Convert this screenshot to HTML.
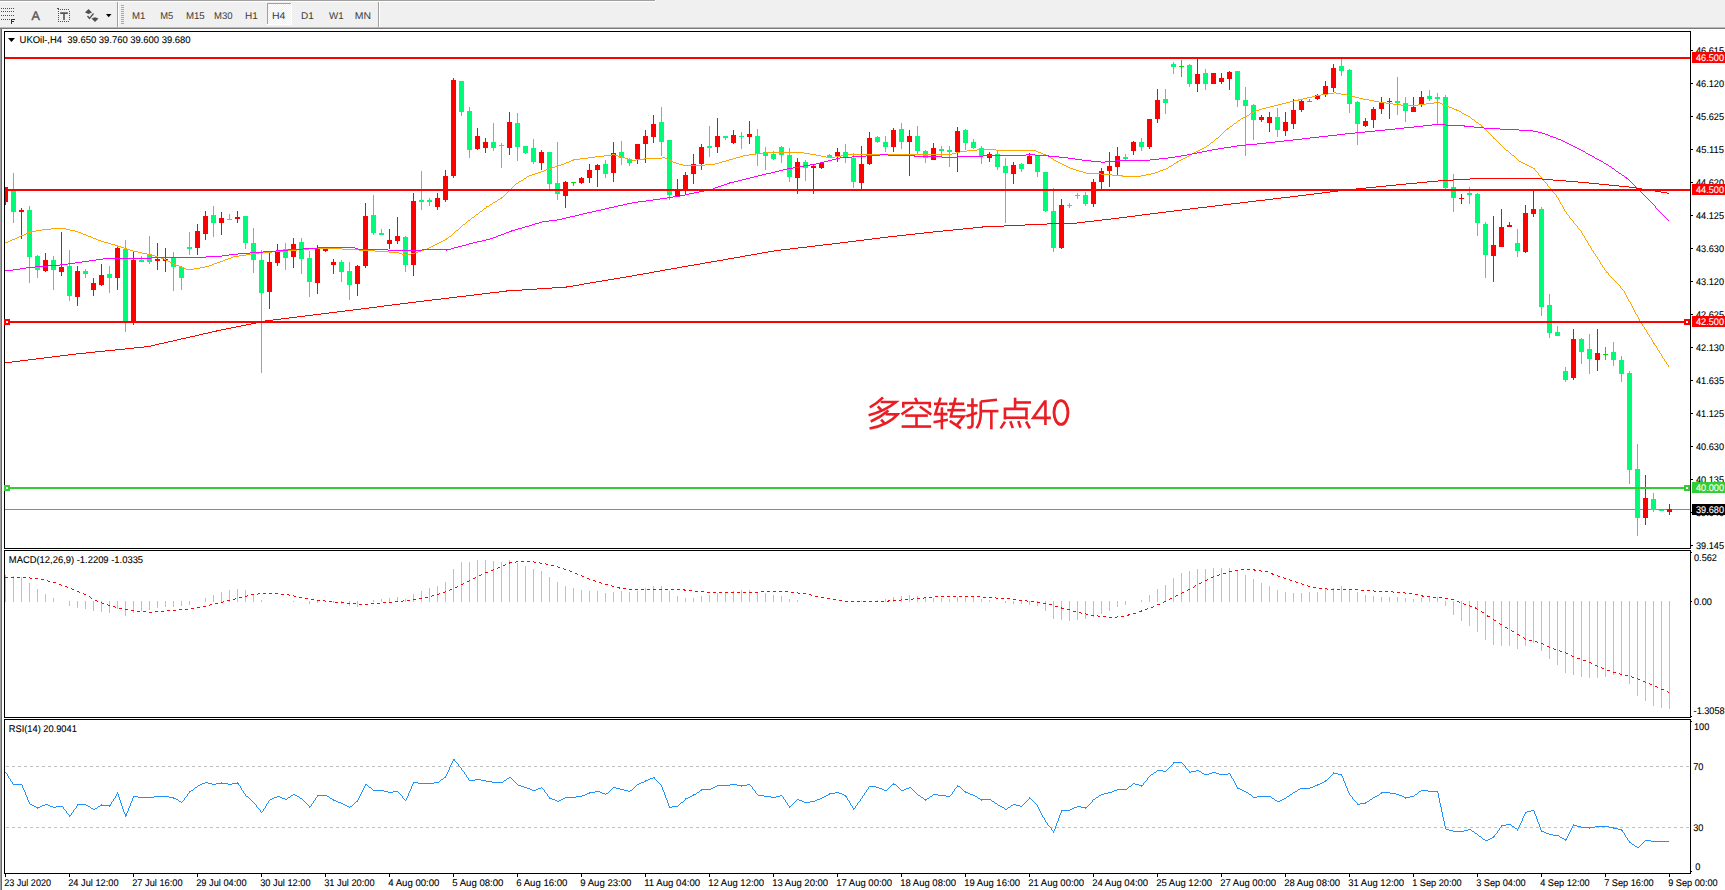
<!DOCTYPE html>
<html><head><meta charset="utf-8"><title>UKOil-,H4</title>
<style>html,body{margin:0;padding:0;background:#fff;overflow:hidden}svg{display:block}text{font-family:"Liberation Sans",sans-serif;white-space:pre}</style>
</head><body>
<svg width="1725" height="890" viewBox="0 0 1725 890" font-family="Liberation Sans, sans-serif" shape-rendering="crispEdges" text-rendering="geometricPrecision">
<rect x="0" y="0" width="1725" height="890" fill="#fff"/>
<rect x="0" y="0" width="1725" height="27" fill="#f0f0f0"/>
<rect x="0" y="0" width="655" height="1" fill="#a0a0a0"/>
<rect x="0" y="1" width="656" height="1" fill="#fff"/>
<rect x="655" y="0" width="1" height="1" fill="#fff"/>
<rect x="0" y="27" width="1725" height="1" fill="#b9b9b9"/>
<rect x="0" y="28" width="1725" height="1" fill="#7a7a7a"/>
<rect x="0" y="29" width="1" height="861" fill="#a0a0a0"/>
<rect x="1" y="29" width="1" height="861" fill="#696969"/>
<g id="toolbar" shape-rendering="auto">
<!-- fibo icon -->
<g fill="#505050" shape-rendering="crispEdges">
<path d="M1,8h1v1h-1zM3,8h1v1h-1zM5,8h1v1h-1zM7,8h1v1h-1zM9,8h1v1h-1zM11,8h1v1h-1zM13,8h1v1h-1z"/>
<path d="M1,11h1v1h-1zM3,11h1v1h-1zM5,11h1v1h-1zM7,11h1v1h-1zM9,11h1v1h-1zM11,11h1v1h-1zM13,11h1v1h-1z"/>
<path d="M1,15h1v1h-1zM3,15h1v1h-1zM5,15h1v1h-1zM7,15h1v1h-1zM9,15h1v1h-1zM11,15h1v1h-1zM13,15h1v1h-1z"/>
<path d="M1,19h1v1h-1zM3,19h1v1h-1zM5,19h1v1h-1zM7,19h1v1h-1zM9,19h1v1h-1z"/>
<path d="M11,19h4v1h-3v1h2v1h-2v2h-1z" fill="#303030"/>
</g>
<!-- A -->
<text x="31.6" y="20" font-size="12.5" fill="#5a5a5a" stroke="#5a5a5a" stroke-width="0.45">A</text>
<!-- T in dotted box -->
<g fill="#505050" shape-rendering="crispEdges">
<path d="M58,9h1v1h-1zM60,9h1v1h-1zM62,9h1v1h-1zM64,9h1v1h-1zM66,9h1v1h-1zM68,9h1v1h-1zM58,21h1v1h-1zM60,21h1v1h-1zM62,21h1v1h-1zM64,21h1v1h-1zM66,21h1v1h-1zM68,21h1v1h-1z"/>
<path d="M58,11h1v1h-1zM58,13h1v1h-1zM58,15h1v1h-1zM58,17h1v1h-1zM58,19h1v1h-1zM69,11h1v1h-1zM69,13h1v1h-1zM69,15h1v1h-1zM69,17h1v1h-1zM69,19h1v1h-1z"/>
<path d="M57,8h2v1h-2z"/>
<path d="M60.200,12.300h7.600v1.600h-3v6.100h-1.600v-6.100h-3z" fill="#555" shape-rendering="auto"/>
</g>
<!-- arrows icon -->
<g fill="#505050">
<path d="M88.500,9 L92,12.500 L88.500,14 L85,12.500 Z"/>
<path d="M95,22 L98.500,18.500 L95,17.200 L91.500,18.500 Z"/>
<path d="M87.500,16 L89.500,18.500 L93.500,13.500" fill="none" stroke="#505050" stroke-width="1.300"/>
</g>
<path d="M106,14 L111.500,14 L108.700,17.200 Z" fill="#000"/>
<!-- separators / grip -->
<g shape-rendering="crispEdges">
<rect x="117" y="2" width="1" height="25" fill="#a0a0a0"/>
<rect x="118" y="2" width="1" height="25" fill="#fff"/>
<path d="M121,5h3v1h-3zM121,7h3v1h-3zM121,9h3v1h-3zM121,11h3v1h-3zM121,13h3v1h-3zM121,15h3v1h-3zM121,17h3v1h-3zM121,19h3v1h-3zM121,21h3v1h-3zM121,23h3v1h-3z" fill="#a8a8a8"/>
<rect x="378" y="2" width="1" height="25" fill="#a0a0a0"/>
<rect x="379" y="2" width="1" height="25" fill="#fff"/>
<!-- H4 selected -->
<defs><pattern id="chk" width="2" height="2" patternUnits="userSpaceOnUse"><rect width="2" height="2" fill="#f0f0f0"/><rect width="1" height="1" fill="#fff"/><rect x="1" y="1" width="1" height="1" fill="#fff"/></pattern></defs><rect x="268" y="4" width="23" height="20" fill="url(#chk)"/>
<rect x="267" y="3" width="25" height="1" fill="#a0a0a0"/><rect x="267" y="3" width="1" height="22" fill="#a0a0a0"/>
<rect x="267" y="24" width="25" height="1" fill="#fff"/><rect x="291" y="3" width="1" height="22" fill="#fff"/>
</g>
<g font-size="9.7" fill="#3c3c3c" lengthAdjust="spacingAndGlyphs">
<text x="132" y="19" textLength="13.4" lengthAdjust="spacingAndGlyphs">M1</text><text x="160.300" y="19" textLength="13" lengthAdjust="spacingAndGlyphs">M5</text><text x="185.900" y="19" textLength="18.800" lengthAdjust="spacingAndGlyphs">M15</text><text x="214.100" y="19" textLength="18.500" lengthAdjust="spacingAndGlyphs">M30</text>
<text x="245" y="19" textLength="12.800" lengthAdjust="spacingAndGlyphs">H1</text><text x="271.900" y="19" textLength="13.400" lengthAdjust="spacingAndGlyphs">H4</text><text x="301" y="19" textLength="12.800" lengthAdjust="spacingAndGlyphs">D1</text><text x="329.100" y="19" textLength="14.600" lengthAdjust="spacingAndGlyphs">W1</text><text x="354.800" y="19" textLength="16.200" lengthAdjust="spacingAndGlyphs">MN</text>
</g>
</g>

<rect x="4" y="31" width="1" height="518" fill="#000"/>
<rect x="1690" y="31" width="1" height="518" fill="#000"/>
<rect x="4" y="31" width="1687" height="1" fill="#000"/>
<rect x="4" y="548" width="1687" height="1" fill="#000"/>
<rect x="4" y="550" width="1" height="168" fill="#000"/>
<rect x="1690" y="550" width="1" height="168" fill="#000"/>
<rect x="4" y="550" width="1687" height="1" fill="#000"/>
<rect x="4" y="717" width="1687" height="1" fill="#000"/>
<rect x="4" y="719" width="1" height="155" fill="#000"/>
<rect x="1690" y="719" width="1" height="155" fill="#000"/>
<rect x="4" y="719" width="1687" height="1" fill="#000"/>
<rect x="4" y="873" width="1687" height="1" fill="#000"/>
<g id="main">
<rect x="5" y="509" width="1685" height="1" fill="#7f8c9b"/>
<rect x="5" y="187" width="1" height="18" fill="#ff0000"/>
<rect x="5" y="187" width="3" height="15" fill="#ff0000"/>
<rect x="13" y="173" width="1" height="50" fill="#00fb78"/>
<rect x="11" y="190" width="5" height="22" fill="#00fb78"/>
<rect x="21" y="208" width="1" height="31" fill="#ff0000"/>
<rect x="19" y="210" width="5" height="2" fill="#ff0000"/>
<rect x="29" y="206" width="1" height="77" fill="#00fb78"/>
<rect x="27" y="210" width="5" height="47" fill="#00fb78"/>
<rect x="37" y="255" width="1" height="23" fill="#00fb78"/>
<rect x="35" y="256" width="5" height="14" fill="#00fb78"/>
<rect x="45" y="253" width="1" height="19" fill="#ff0000"/>
<rect x="43" y="260" width="5" height="11" fill="#ff0000"/>
<rect x="53" y="256" width="1" height="34" fill="#00fb78"/>
<rect x="51" y="260" width="5" height="10" fill="#00fb78"/>
<rect x="61" y="232" width="1" height="44" fill="#ff0000"/>
<rect x="59" y="267" width="5" height="5" fill="#ff0000"/>
<rect x="69" y="250" width="1" height="51" fill="#00fb78"/>
<rect x="67" y="266" width="5" height="30" fill="#00fb78"/>
<rect x="77" y="266" width="1" height="40" fill="#ff0000"/>
<rect x="75" y="271" width="5" height="26" fill="#ff0000"/>
<rect x="85" y="269" width="1" height="9" fill="#00fb78"/>
<rect x="83" y="271" width="5" height="3" fill="#00fb78"/>
<rect x="93" y="278" width="1" height="18" fill="#ff0000"/>
<rect x="91" y="283" width="5" height="7" fill="#ff0000"/>
<rect x="101" y="264" width="1" height="22" fill="#ff0000"/>
<rect x="99" y="275" width="5" height="10" fill="#ff0000"/>
<rect x="109" y="266" width="1" height="27" fill="#00fb78"/>
<rect x="107" y="274" width="5" height="4" fill="#00fb78"/>
<rect x="117" y="247" width="1" height="43" fill="#ff0000"/>
<rect x="115" y="248" width="5" height="30" fill="#ff0000"/>
<rect x="125" y="240" width="1" height="92" fill="#00fb78"/>
<rect x="123" y="249" width="5" height="73" fill="#00fb78"/>
<rect x="133" y="252" width="1" height="73" fill="#ff0000"/>
<rect x="131" y="260" width="5" height="62" fill="#ff0000"/>
<rect x="141" y="256" width="1" height="6" fill="#00fb78"/>
<rect x="139" y="260" width="5" height="2" fill="#00fb78"/>
<rect x="149" y="236" width="1" height="28" fill="#00fb78"/>
<rect x="147" y="254" width="5" height="8" fill="#00fb78"/>
<rect x="157" y="243" width="1" height="27" fill="#ff0000"/>
<rect x="155" y="259" width="5" height="2" fill="#ff0000"/>
<rect x="165" y="248" width="1" height="24" fill="#ff0000"/>
<rect x="163" y="259" width="5" height="2" fill="#ff0000"/>
<rect x="173" y="252" width="1" height="39" fill="#00fb78"/>
<rect x="171" y="258" width="5" height="9" fill="#00fb78"/>
<rect x="181" y="266" width="1" height="24" fill="#00fb78"/>
<rect x="179" y="267" width="5" height="11" fill="#00fb78"/>
<rect x="189" y="232" width="1" height="23" fill="#00fb78"/>
<rect x="187" y="247" width="5" height="2" fill="#00fb78"/>
<rect x="197" y="224" width="1" height="31" fill="#ff0000"/>
<rect x="195" y="231" width="5" height="17" fill="#ff0000"/>
<rect x="205" y="211" width="1" height="29" fill="#ff0000"/>
<rect x="203" y="216" width="5" height="18" fill="#ff0000"/>
<rect x="213" y="206" width="1" height="31" fill="#00fb78"/>
<rect x="211" y="215" width="5" height="8" fill="#00fb78"/>
<rect x="221" y="212" width="1" height="23" fill="#ff0000"/>
<rect x="219" y="218" width="5" height="5" fill="#ff0000"/>
<rect x="229" y="214" width="1" height="6" fill="#00fb78"/>
<rect x="227" y="219" width="5" height="1" fill="#00fb78"/>
<rect x="237" y="211" width="1" height="12" fill="#ff0000"/>
<rect x="235" y="217" width="5" height="2" fill="#ff0000"/>
<rect x="245" y="216" width="1" height="33" fill="#00fb78"/>
<rect x="243" y="216" width="5" height="27" fill="#00fb78"/>
<rect x="253" y="228" width="1" height="45" fill="#00fb78"/>
<rect x="251" y="243" width="5" height="17" fill="#00fb78"/>
<rect x="261" y="250" width="1" height="123" fill="#00fb78"/>
<rect x="259" y="260" width="5" height="33" fill="#00fb78"/>
<rect x="269" y="252" width="1" height="57" fill="#ff0000"/>
<rect x="267" y="262" width="5" height="30" fill="#ff0000"/>
<rect x="277" y="244" width="1" height="22" fill="#ff0000"/>
<rect x="275" y="252" width="5" height="11" fill="#ff0000"/>
<rect x="285" y="243" width="1" height="27" fill="#00fb78"/>
<rect x="283" y="249" width="5" height="9" fill="#00fb78"/>
<rect x="293" y="238" width="1" height="30" fill="#ff0000"/>
<rect x="291" y="244" width="5" height="13" fill="#ff0000"/>
<rect x="301" y="238" width="1" height="36" fill="#00fb78"/>
<rect x="299" y="242" width="5" height="17" fill="#00fb78"/>
<rect x="309" y="251" width="1" height="46" fill="#00fb78"/>
<rect x="307" y="258" width="5" height="24" fill="#00fb78"/>
<rect x="317" y="245" width="1" height="49" fill="#ff0000"/>
<rect x="315" y="249" width="5" height="34" fill="#ff0000"/>
<rect x="325" y="248" width="1" height="4" fill="#ff0000"/>
<rect x="323" y="249" width="5" height="2" fill="#ff0000"/>
<rect x="333" y="259" width="1" height="15" fill="#ff0000"/>
<rect x="331" y="262" width="5" height="3" fill="#ff0000"/>
<rect x="341" y="260" width="1" height="22" fill="#00fb78"/>
<rect x="339" y="262" width="5" height="10" fill="#00fb78"/>
<rect x="349" y="262" width="1" height="38" fill="#00fb78"/>
<rect x="347" y="271" width="5" height="14" fill="#00fb78"/>
<rect x="357" y="265" width="1" height="31" fill="#ff0000"/>
<rect x="355" y="266" width="5" height="18" fill="#ff0000"/>
<rect x="365" y="203" width="1" height="65" fill="#ff0000"/>
<rect x="363" y="216" width="5" height="50" fill="#ff0000"/>
<rect x="373" y="195" width="1" height="40" fill="#00fb78"/>
<rect x="371" y="215" width="5" height="18" fill="#00fb78"/>
<rect x="381" y="229" width="1" height="6" fill="#00fb78"/>
<rect x="379" y="233" width="5" height="2" fill="#00fb78"/>
<rect x="389" y="229" width="1" height="20" fill="#ff0000"/>
<rect x="387" y="240" width="5" height="4" fill="#ff0000"/>
<rect x="397" y="217" width="1" height="27" fill="#ff0000"/>
<rect x="395" y="236" width="5" height="5" fill="#ff0000"/>
<rect x="405" y="236" width="1" height="36" fill="#00fb78"/>
<rect x="403" y="237" width="5" height="28" fill="#00fb78"/>
<rect x="413" y="193" width="1" height="83" fill="#ff0000"/>
<rect x="411" y="201" width="5" height="64" fill="#ff0000"/>
<rect x="421" y="171" width="1" height="39" fill="#00fb78"/>
<rect x="419" y="200" width="5" height="2" fill="#00fb78"/>
<rect x="429" y="198" width="1" height="8" fill="#00fb78"/>
<rect x="427" y="200" width="5" height="2" fill="#00fb78"/>
<rect x="437" y="193" width="1" height="17" fill="#ff0000"/>
<rect x="435" y="198" width="5" height="9" fill="#ff0000"/>
<rect x="445" y="170" width="1" height="32" fill="#ff0000"/>
<rect x="443" y="176" width="5" height="24" fill="#ff0000"/>
<rect x="453" y="78" width="1" height="100" fill="#ff0000"/>
<rect x="451" y="80" width="5" height="96" fill="#ff0000"/>
<rect x="461" y="81" width="1" height="35" fill="#00fb78"/>
<rect x="459" y="81" width="5" height="31" fill="#00fb78"/>
<rect x="469" y="107" width="1" height="51" fill="#00fb78"/>
<rect x="467" y="111" width="5" height="39" fill="#00fb78"/>
<rect x="477" y="128" width="1" height="22" fill="#ff0000"/>
<rect x="475" y="136" width="5" height="13" fill="#ff0000"/>
<rect x="485" y="138" width="1" height="15" fill="#ff0000"/>
<rect x="483" y="142" width="5" height="6" fill="#ff0000"/>
<rect x="493" y="123" width="1" height="28" fill="#00fb78"/>
<rect x="491" y="142" width="5" height="6" fill="#00fb78"/>
<rect x="501" y="143" width="1" height="25" fill="#00fb78"/>
<rect x="499" y="145" width="5" height="1" fill="#00fb78"/>
<rect x="509" y="112" width="1" height="43" fill="#ff0000"/>
<rect x="507" y="122" width="5" height="26" fill="#ff0000"/>
<rect x="517" y="113" width="1" height="48" fill="#00fb78"/>
<rect x="515" y="123" width="5" height="24" fill="#00fb78"/>
<rect x="525" y="146" width="1" height="8" fill="#00fb78"/>
<rect x="523" y="146" width="5" height="7" fill="#00fb78"/>
<rect x="533" y="139" width="1" height="25" fill="#00fb78"/>
<rect x="531" y="148" width="5" height="14" fill="#00fb78"/>
<rect x="541" y="150" width="1" height="20" fill="#ff0000"/>
<rect x="539" y="152" width="5" height="11" fill="#ff0000"/>
<rect x="549" y="152" width="1" height="37" fill="#00fb78"/>
<rect x="547" y="152" width="5" height="32" fill="#00fb78"/>
<rect x="557" y="142" width="1" height="58" fill="#00fb78"/>
<rect x="555" y="183" width="5" height="11" fill="#00fb78"/>
<rect x="565" y="181" width="1" height="27" fill="#ff0000"/>
<rect x="563" y="182" width="5" height="14" fill="#ff0000"/>
<rect x="573" y="182" width="1" height="4" fill="#00e000"/>
<rect x="571" y="182" width="5" height="1" fill="#00e000"/>
<rect x="581" y="177" width="1" height="7" fill="#ff0000"/>
<rect x="579" y="178" width="5" height="5" fill="#ff0000"/>
<rect x="589" y="164" width="1" height="19" fill="#ff0000"/>
<rect x="587" y="170" width="5" height="8" fill="#ff0000"/>
<rect x="597" y="164" width="1" height="23" fill="#ff0000"/>
<rect x="595" y="165" width="5" height="5" fill="#ff0000"/>
<rect x="605" y="160" width="1" height="18" fill="#00fb78"/>
<rect x="603" y="164" width="5" height="10" fill="#00fb78"/>
<rect x="613" y="142" width="1" height="40" fill="#ff0000"/>
<rect x="611" y="153" width="5" height="20" fill="#ff0000"/>
<rect x="621" y="141" width="1" height="24" fill="#00fb78"/>
<rect x="619" y="152" width="5" height="6" fill="#00fb78"/>
<rect x="629" y="158" width="1" height="8" fill="#00fb78"/>
<rect x="627" y="159" width="5" height="4" fill="#00fb78"/>
<rect x="637" y="144" width="1" height="20" fill="#ff0000"/>
<rect x="635" y="144" width="5" height="15" fill="#ff0000"/>
<rect x="645" y="130" width="1" height="33" fill="#ff0000"/>
<rect x="643" y="136" width="5" height="8" fill="#ff0000"/>
<rect x="653" y="115" width="1" height="28" fill="#ff0000"/>
<rect x="651" y="124" width="5" height="13" fill="#ff0000"/>
<rect x="661" y="107" width="1" height="49" fill="#00fb78"/>
<rect x="659" y="122" width="5" height="20" fill="#00fb78"/>
<rect x="669" y="140" width="1" height="60" fill="#00fb78"/>
<rect x="667" y="140" width="5" height="55" fill="#00fb78"/>
<rect x="677" y="179" width="1" height="17" fill="#ff0000"/>
<rect x="675" y="190" width="5" height="6" fill="#ff0000"/>
<rect x="685" y="172" width="1" height="22" fill="#ff0000"/>
<rect x="683" y="175" width="5" height="15" fill="#ff0000"/>
<rect x="693" y="154" width="1" height="30" fill="#ff0000"/>
<rect x="691" y="164" width="5" height="10" fill="#ff0000"/>
<rect x="701" y="144" width="1" height="26" fill="#ff0000"/>
<rect x="699" y="147" width="5" height="17" fill="#ff0000"/>
<rect x="709" y="126" width="1" height="31" fill="#00fb78"/>
<rect x="707" y="146" width="5" height="2" fill="#00fb78"/>
<rect x="717" y="118" width="1" height="35" fill="#ff0000"/>
<rect x="715" y="136" width="5" height="11" fill="#ff0000"/>
<rect x="725" y="136" width="1" height="4" fill="#00fb78"/>
<rect x="723" y="136" width="5" height="2" fill="#00fb78"/>
<rect x="733" y="130" width="1" height="14" fill="#ff0000"/>
<rect x="731" y="135" width="5" height="8" fill="#ff0000"/>
<rect x="741" y="132" width="1" height="17" fill="#00fb78"/>
<rect x="739" y="136" width="5" height="1" fill="#00fb78"/>
<rect x="749" y="121" width="1" height="23" fill="#ff0000"/>
<rect x="747" y="134" width="5" height="3" fill="#ff0000"/>
<rect x="757" y="129" width="1" height="37" fill="#00fb78"/>
<rect x="755" y="136" width="5" height="18" fill="#00fb78"/>
<rect x="765" y="147" width="1" height="23" fill="#00fb78"/>
<rect x="763" y="152" width="5" height="4" fill="#00fb78"/>
<rect x="773" y="151" width="1" height="9" fill="#00fb78"/>
<rect x="771" y="154" width="5" height="5" fill="#00fb78"/>
<rect x="781" y="146" width="1" height="17" fill="#00fb78"/>
<rect x="779" y="147" width="5" height="8" fill="#00fb78"/>
<rect x="789" y="148" width="1" height="34" fill="#00fb78"/>
<rect x="787" y="155" width="5" height="22" fill="#00fb78"/>
<rect x="797" y="158" width="1" height="36" fill="#ff0000"/>
<rect x="795" y="162" width="5" height="16" fill="#ff0000"/>
<rect x="805" y="160" width="1" height="21" fill="#00fb78"/>
<rect x="803" y="162" width="5" height="6" fill="#00fb78"/>
<rect x="813" y="165" width="1" height="29" fill="#ff0000"/>
<rect x="811" y="166" width="5" height="2" fill="#ff0000"/>
<rect x="821" y="162" width="1" height="7" fill="#ff0000"/>
<rect x="819" y="163" width="5" height="5" fill="#ff0000"/>
<rect x="829" y="154" width="1" height="4" fill="#00fb78"/>
<rect x="827" y="155" width="5" height="2" fill="#00fb78"/>
<rect x="837" y="148" width="1" height="14" fill="#ff0000"/>
<rect x="835" y="152" width="5" height="5" fill="#ff0000"/>
<rect x="845" y="144" width="1" height="19" fill="#00fb78"/>
<rect x="843" y="152" width="5" height="6" fill="#00fb78"/>
<rect x="853" y="153" width="1" height="35" fill="#00fb78"/>
<rect x="851" y="158" width="5" height="24" fill="#00fb78"/>
<rect x="861" y="146" width="1" height="43" fill="#ff0000"/>
<rect x="859" y="164" width="5" height="19" fill="#ff0000"/>
<rect x="869" y="132" width="1" height="33" fill="#ff0000"/>
<rect x="867" y="138" width="5" height="26" fill="#ff0000"/>
<rect x="877" y="136" width="1" height="7" fill="#00fb78"/>
<rect x="875" y="137" width="5" height="5" fill="#00fb78"/>
<rect x="885" y="136" width="1" height="16" fill="#00fb78"/>
<rect x="883" y="142" width="5" height="5" fill="#00fb78"/>
<rect x="893" y="128" width="1" height="24" fill="#ff0000"/>
<rect x="891" y="130" width="5" height="17" fill="#ff0000"/>
<rect x="901" y="123" width="1" height="26" fill="#00fb78"/>
<rect x="899" y="129" width="5" height="13" fill="#00fb78"/>
<rect x="909" y="130" width="1" height="46" fill="#ff0000"/>
<rect x="907" y="136" width="5" height="6" fill="#ff0000"/>
<rect x="917" y="126" width="1" height="29" fill="#00fb78"/>
<rect x="915" y="136" width="5" height="15" fill="#00fb78"/>
<rect x="925" y="150" width="1" height="13" fill="#00fb78"/>
<rect x="923" y="151" width="5" height="7" fill="#00fb78"/>
<rect x="933" y="143" width="1" height="17" fill="#ff0000"/>
<rect x="931" y="148" width="5" height="12" fill="#ff0000"/>
<rect x="941" y="146" width="1" height="12" fill="#00fb78"/>
<rect x="939" y="149" width="5" height="2" fill="#00fb78"/>
<rect x="949" y="146" width="1" height="21" fill="#00fb78"/>
<rect x="947" y="150" width="5" height="2" fill="#00fb78"/>
<rect x="957" y="127" width="1" height="45" fill="#ff0000"/>
<rect x="955" y="131" width="5" height="21" fill="#ff0000"/>
<rect x="965" y="129" width="1" height="21" fill="#00fb78"/>
<rect x="963" y="130" width="5" height="13" fill="#00fb78"/>
<rect x="973" y="139" width="1" height="10" fill="#00fb78"/>
<rect x="971" y="142" width="5" height="6" fill="#00fb78"/>
<rect x="981" y="146" width="1" height="18" fill="#00fb78"/>
<rect x="979" y="148" width="5" height="8" fill="#00fb78"/>
<rect x="989" y="152" width="1" height="10" fill="#ff0000"/>
<rect x="987" y="154" width="5" height="4" fill="#ff0000"/>
<rect x="997" y="150" width="1" height="20" fill="#00fb78"/>
<rect x="995" y="154" width="5" height="13" fill="#00fb78"/>
<rect x="1005" y="158" width="1" height="65" fill="#00fb78"/>
<rect x="1003" y="166" width="5" height="7" fill="#00fb78"/>
<rect x="1013" y="162" width="1" height="22" fill="#ff0000"/>
<rect x="1011" y="165" width="5" height="9" fill="#ff0000"/>
<rect x="1021" y="163" width="1" height="9" fill="#00fb78"/>
<rect x="1019" y="164" width="5" height="5" fill="#00fb78"/>
<rect x="1029" y="153" width="1" height="11" fill="#ff0000"/>
<rect x="1027" y="156" width="5" height="8" fill="#ff0000"/>
<rect x="1037" y="155" width="1" height="22" fill="#00fb78"/>
<rect x="1035" y="156" width="5" height="16" fill="#00fb78"/>
<rect x="1045" y="172" width="1" height="40" fill="#00fb78"/>
<rect x="1043" y="172" width="5" height="39" fill="#00fb78"/>
<rect x="1053" y="188" width="1" height="64" fill="#00fb78"/>
<rect x="1051" y="211" width="5" height="37" fill="#00fb78"/>
<rect x="1061" y="199" width="1" height="50" fill="#ff0000"/>
<rect x="1059" y="205" width="5" height="43" fill="#ff0000"/>
<rect x="1069" y="203" width="1" height="5" fill="#00fb78"/>
<rect x="1067" y="205" width="5" height="1" fill="#00fb78"/>
<rect x="1077" y="193" width="1" height="6" fill="#00fb78"/>
<rect x="1075" y="195" width="5" height="1" fill="#00fb78"/>
<rect x="1085" y="192" width="1" height="14" fill="#00fb78"/>
<rect x="1083" y="195" width="5" height="9" fill="#00fb78"/>
<rect x="1093" y="179" width="1" height="28" fill="#ff0000"/>
<rect x="1091" y="182" width="5" height="22" fill="#ff0000"/>
<rect x="1101" y="168" width="1" height="22" fill="#ff0000"/>
<rect x="1099" y="171" width="5" height="11" fill="#ff0000"/>
<rect x="1109" y="152" width="1" height="35" fill="#ff0000"/>
<rect x="1107" y="166" width="5" height="5" fill="#ff0000"/>
<rect x="1117" y="147" width="1" height="28" fill="#ff0000"/>
<rect x="1115" y="156" width="5" height="11" fill="#ff0000"/>
<rect x="1125" y="154" width="1" height="6" fill="#00fb78"/>
<rect x="1123" y="157" width="5" height="2" fill="#00fb78"/>
<rect x="1133" y="141" width="1" height="14" fill="#ff0000"/>
<rect x="1131" y="142" width="5" height="9" fill="#ff0000"/>
<rect x="1141" y="138" width="1" height="13" fill="#00fb78"/>
<rect x="1139" y="142" width="5" height="5" fill="#00fb78"/>
<rect x="1149" y="119" width="1" height="30" fill="#ff0000"/>
<rect x="1147" y="119" width="5" height="28" fill="#ff0000"/>
<rect x="1157" y="89" width="1" height="34" fill="#ff0000"/>
<rect x="1155" y="100" width="5" height="19" fill="#ff0000"/>
<rect x="1165" y="89" width="1" height="25" fill="#00fb78"/>
<rect x="1163" y="99" width="5" height="4" fill="#00fb78"/>
<rect x="1173" y="62" width="1" height="12" fill="#00fb78"/>
<rect x="1171" y="64" width="5" height="3" fill="#00fb78"/>
<rect x="1181" y="60" width="1" height="17" fill="#00e000"/>
<rect x="1179" y="66" width="5" height="1" fill="#00e000"/>
<rect x="1189" y="64" width="1" height="23" fill="#00fb78"/>
<rect x="1187" y="65" width="5" height="19" fill="#00fb78"/>
<rect x="1197" y="58" width="1" height="34" fill="#ff0000"/>
<rect x="1195" y="74" width="5" height="10" fill="#ff0000"/>
<rect x="1205" y="69" width="1" height="21" fill="#00fb78"/>
<rect x="1203" y="73" width="5" height="11" fill="#00fb78"/>
<rect x="1213" y="73" width="1" height="11" fill="#ff0000"/>
<rect x="1211" y="73" width="5" height="11" fill="#ff0000"/>
<rect x="1221" y="73" width="1" height="11" fill="#ff0000"/>
<rect x="1219" y="78" width="5" height="4" fill="#ff0000"/>
<rect x="1229" y="71" width="1" height="19" fill="#ff0000"/>
<rect x="1227" y="72" width="5" height="7" fill="#ff0000"/>
<rect x="1237" y="71" width="1" height="36" fill="#00fb78"/>
<rect x="1235" y="71" width="5" height="29" fill="#00fb78"/>
<rect x="1245" y="87" width="1" height="69" fill="#00fb78"/>
<rect x="1243" y="100" width="5" height="6" fill="#00fb78"/>
<rect x="1253" y="104" width="1" height="36" fill="#00fb78"/>
<rect x="1251" y="105" width="5" height="15" fill="#00fb78"/>
<rect x="1261" y="115" width="1" height="7" fill="#ff0000"/>
<rect x="1259" y="117" width="5" height="3" fill="#ff0000"/>
<rect x="1269" y="112" width="1" height="20" fill="#ff0000"/>
<rect x="1267" y="117" width="5" height="6" fill="#ff0000"/>
<rect x="1277" y="108" width="1" height="29" fill="#00fb78"/>
<rect x="1275" y="117" width="5" height="13" fill="#00fb78"/>
<rect x="1285" y="112" width="1" height="24" fill="#ff0000"/>
<rect x="1283" y="122" width="5" height="9" fill="#ff0000"/>
<rect x="1293" y="99" width="1" height="30" fill="#ff0000"/>
<rect x="1291" y="110" width="5" height="14" fill="#ff0000"/>
<rect x="1301" y="99" width="1" height="13" fill="#ff0000"/>
<rect x="1299" y="101" width="5" height="9" fill="#ff0000"/>
<rect x="1309" y="99" width="1" height="3" fill="#00e000"/>
<rect x="1307" y="101" width="5" height="1" fill="#00e000"/>
<rect x="1317" y="94" width="1" height="6" fill="#ff0000"/>
<rect x="1315" y="95" width="5" height="4" fill="#ff0000"/>
<rect x="1325" y="81" width="1" height="16" fill="#ff0000"/>
<rect x="1323" y="86" width="5" height="9" fill="#ff0000"/>
<rect x="1333" y="64" width="1" height="28" fill="#ff0000"/>
<rect x="1331" y="68" width="5" height="20" fill="#ff0000"/>
<rect x="1341" y="59" width="1" height="17" fill="#00fb78"/>
<rect x="1339" y="66" width="5" height="5" fill="#00fb78"/>
<rect x="1349" y="69" width="1" height="44" fill="#00fb78"/>
<rect x="1347" y="70" width="5" height="34" fill="#00fb78"/>
<rect x="1357" y="101" width="1" height="44" fill="#00fb78"/>
<rect x="1355" y="102" width="5" height="22" fill="#00fb78"/>
<rect x="1365" y="118" width="1" height="9" fill="#ff0000"/>
<rect x="1363" y="121" width="5" height="5" fill="#ff0000"/>
<rect x="1373" y="107" width="1" height="21" fill="#ff0000"/>
<rect x="1371" y="109" width="5" height="11" fill="#ff0000"/>
<rect x="1381" y="97" width="1" height="17" fill="#ff0000"/>
<rect x="1379" y="102" width="5" height="7" fill="#ff0000"/>
<rect x="1389" y="98" width="1" height="21" fill="#ff0000"/>
<rect x="1387" y="101" width="5" height="1" fill="#ff0000"/>
<rect x="1397" y="77" width="1" height="38" fill="#00fb78"/>
<rect x="1395" y="101" width="5" height="2" fill="#00fb78"/>
<rect x="1405" y="97" width="1" height="25" fill="#00fb78"/>
<rect x="1403" y="103" width="5" height="8" fill="#00fb78"/>
<rect x="1413" y="97" width="1" height="15" fill="#ff0000"/>
<rect x="1411" y="107" width="5" height="5" fill="#ff0000"/>
<rect x="1421" y="91" width="1" height="16" fill="#ff0000"/>
<rect x="1419" y="97" width="5" height="7" fill="#ff0000"/>
<rect x="1429" y="90" width="1" height="11" fill="#00fb78"/>
<rect x="1427" y="96" width="5" height="3" fill="#00fb78"/>
<rect x="1437" y="93" width="1" height="32" fill="#00fb78"/>
<rect x="1435" y="97" width="5" height="2" fill="#00fb78"/>
<rect x="1445" y="95" width="1" height="94" fill="#00fb78"/>
<rect x="1443" y="97" width="5" height="91" fill="#00fb78"/>
<rect x="1453" y="174" width="1" height="38" fill="#00fb78"/>
<rect x="1451" y="187" width="5" height="11" fill="#00fb78"/>
<rect x="1461" y="194" width="1" height="10" fill="#ff0000"/>
<rect x="1459" y="198" width="5" height="1" fill="#ff0000"/>
<rect x="1469" y="187" width="1" height="17" fill="#00fb78"/>
<rect x="1467" y="193" width="5" height="2" fill="#00fb78"/>
<rect x="1477" y="193" width="1" height="43" fill="#00fb78"/>
<rect x="1475" y="194" width="5" height="29" fill="#00fb78"/>
<rect x="1485" y="222" width="1" height="56" fill="#00fb78"/>
<rect x="1483" y="224" width="5" height="31" fill="#00fb78"/>
<rect x="1493" y="216" width="1" height="66" fill="#ff0000"/>
<rect x="1491" y="245" width="5" height="11" fill="#ff0000"/>
<rect x="1501" y="209" width="1" height="38" fill="#ff0000"/>
<rect x="1499" y="227" width="5" height="20" fill="#ff0000"/>
<rect x="1509" y="222" width="1" height="5" fill="#ff0000"/>
<rect x="1507" y="225" width="5" height="2" fill="#ff0000"/>
<rect x="1517" y="229" width="1" height="28" fill="#00fb78"/>
<rect x="1515" y="243" width="5" height="8" fill="#00fb78"/>
<rect x="1525" y="205" width="1" height="48" fill="#ff0000"/>
<rect x="1523" y="213" width="5" height="39" fill="#ff0000"/>
<rect x="1533" y="191" width="1" height="26" fill="#ff0000"/>
<rect x="1531" y="209" width="5" height="5" fill="#ff0000"/>
<rect x="1541" y="207" width="1" height="109" fill="#00fb78"/>
<rect x="1539" y="209" width="5" height="98" fill="#00fb78"/>
<rect x="1549" y="294" width="1" height="44" fill="#00fb78"/>
<rect x="1547" y="305" width="5" height="28" fill="#00fb78"/>
<rect x="1557" y="326" width="1" height="10" fill="#00fb78"/>
<rect x="1555" y="332" width="5" height="4" fill="#00fb78"/>
<rect x="1565" y="367" width="1" height="15" fill="#00fb78"/>
<rect x="1563" y="371" width="5" height="9" fill="#00fb78"/>
<rect x="1573" y="329" width="1" height="51" fill="#ff0000"/>
<rect x="1571" y="339" width="5" height="39" fill="#ff0000"/>
<rect x="1581" y="338" width="1" height="26" fill="#00fb78"/>
<rect x="1579" y="339" width="5" height="13" fill="#00fb78"/>
<rect x="1589" y="334" width="1" height="40" fill="#00fb78"/>
<rect x="1587" y="349" width="5" height="10" fill="#00fb78"/>
<rect x="1597" y="329" width="1" height="42" fill="#ff0000"/>
<rect x="1595" y="353" width="5" height="7" fill="#ff0000"/>
<rect x="1605" y="347" width="1" height="13" fill="#00e000"/>
<rect x="1603" y="354" width="5" height="1" fill="#00e000"/>
<rect x="1613" y="342" width="1" height="24" fill="#00fb78"/>
<rect x="1611" y="352" width="5" height="8" fill="#00fb78"/>
<rect x="1621" y="356" width="1" height="26" fill="#00fb78"/>
<rect x="1619" y="360" width="5" height="14" fill="#00fb78"/>
<rect x="1629" y="371" width="1" height="113" fill="#00fb78"/>
<rect x="1627" y="373" width="5" height="97" fill="#00fb78"/>
<rect x="1637" y="444" width="1" height="92" fill="#00fb78"/>
<rect x="1635" y="469" width="5" height="49" fill="#00fb78"/>
<rect x="1645" y="475" width="1" height="50" fill="#ff0000"/>
<rect x="1643" y="498" width="5" height="20" fill="#ff0000"/>
<rect x="1653" y="493" width="1" height="19" fill="#00fb78"/>
<rect x="1651" y="499" width="5" height="11" fill="#00fb78"/>
<rect x="1661" y="510" width="1" height="1" fill="#00fb78"/>
<rect x="1659" y="510" width="5" height="1" fill="#00fb78"/>
<rect x="1669" y="504" width="1" height="11" fill="#ff0000"/>
<rect x="1667" y="509" width="5" height="3" fill="#ff0000"/>
<path fill="#ffa500" d="M5,242h3v1h-3zM8,241h2v1h-2zM10,240h2v1h-2zM12,239h3v1h-3zM15,238h2v1h-2zM17,237h2v1h-2zM19,236h2v1h-2zM21,235h3v1h-3zM24,234h2v1h-2zM26,233h2v1h-2zM28,232h2v1h-2zM30,231h1v2h-1zM31,231h5v1h-5zM36,230h6v1h-6zM42,229h9v1h-9zM51,228h15v1h-15zM66,229h4v1h-4zM70,230h5v1h-5zM75,231h3v1h-3zM78,232h3v1h-3zM81,233h2v1h-2zM83,234h3v1h-3zM86,235h2v1h-2zM88,236h3v1h-3zM91,237h2v1h-2zM93,238h3v1h-3zM96,239h2v1h-2zM98,240h3v1h-3zM101,241h3v1h-3zM104,242h4v1h-4zM108,243h3v1h-3zM111,244h4v1h-4zM115,245h2v1h-2zM117,245h1v2h-1zM118,246h3v1h-3zM121,247h3v1h-3zM124,248h3v1h-3zM127,249h3v1h-3zM130,250h3v1h-3zM133,251h5v1h-5zM138,252h4v1h-4zM142,253h5v1h-5zM147,254h5v1h-5zM152,255h3v1h-3zM155,256h3v1h-3zM158,257h3v1h-3zM161,258h3v1h-3zM164,259h2v1h-2zM166,260h2v1h-2zM168,261h2v1h-2zM170,262h2v1h-2zM172,263h2v1h-2zM174,264h2v1h-2zM176,265h3v1h-3zM179,266h2v1h-2zM181,267h3v1h-3zM184,268h2v1h-2zM186,269h8v1h-8zM194,268h6v1h-6zM200,267h5v1h-5zM205,266h4v1h-4zM209,265h3v1h-3zM212,264h2v1h-2zM214,263h3v1h-3zM217,262h3v1h-3zM220,261h3v1h-3zM223,260h2v1h-2zM225,259h3v1h-3zM228,258h3v1h-3zM231,257h2v1h-2zM233,256h6v1h-6zM239,255h7v1h-7zM246,254h6v1h-6zM252,253h6v1h-6zM258,252h1v2h-1zM259,252h13v1h-13zM272,251h11v1h-11zM283,250h1v2h-1zM284,250h13v1h-13zM297,249h11v1h-11zM308,248h1v2h-1zM309,248h33v1h-33zM342,249h17v1h-17zM359,250h16v1h-16zM375,251h14v1h-14zM389,252h10v1h-10zM399,253h3v1h-3zM402,254h3v1h-3zM405,255h2v1h-2zM407,254h4v1h-4zM411,253h4v1h-4zM415,252h3v1h-3zM418,251h3v1h-3zM421,250h3v1h-3zM424,249h3v1h-3zM427,248h2v1h-2zM429,247h2v1h-2zM431,246h2v1h-2zM433,245h2v1h-2zM435,244h2v1h-2zM437,243h2v1h-2zM439,242h2v1h-2zM441,241h2v1h-2zM443,240h2v1h-2zM445,239h1v1h-1zM446,238h1v2h-1zM447,238h1v1h-1zM448,237h1v1h-1zM449,236h2v1h-2zM451,235h1v1h-1zM452,234h1v1h-1zM453,233h1v1h-1zM454,232h1v1h-1zM455,231h1v1h-1zM456,230h2v1h-2zM458,229h1v1h-1zM459,228h1v1h-1zM460,227h1v1h-1zM461,226h1v1h-1zM462,225h1v1h-1zM463,224h2v1h-2zM465,223h1v1h-1zM466,222h1v1h-1zM467,221h1v1h-1zM468,220h2v1h-2zM470,219h1v1h-1zM471,218h1v1h-1zM472,217h2v1h-2zM474,216h1v1h-1zM475,215h1v1h-1zM476,214h2v1h-2zM478,213h1v1h-1zM479,212h1v1h-1zM480,211h2v1h-2zM482,210h1v1h-1zM483,209h1v1h-1zM484,208h2v1h-2zM486,206h1v2h-1zM487,206h2v1h-2zM489,205h1v1h-1zM490,204h2v1h-2zM492,203h1v1h-1zM493,202h2v1h-2zM495,201h2v1h-2zM497,200h1v1h-1zM498,199h2v1h-2zM500,198h1v1h-1zM501,197h1v2h-1zM502,197h1v1h-1zM503,196h1v1h-1zM504,195h1v1h-1zM505,194h1v1h-1zM506,193h1v1h-1zM507,192h1v1h-1zM508,191h1v1h-1zM509,190h1v1h-1zM510,189h1v1h-1zM511,188h1v1h-1zM512,187h1v1h-1zM513,186h1v1h-1zM514,185h1v1h-1zM515,184h1v1h-1zM516,183h2v1h-2zM518,182h1v1h-1zM519,181h2v1h-2zM521,180h2v1h-2zM523,179h1v1h-1zM524,178h2v1h-2zM526,177h1v1h-1zM527,176h2v1h-2zM529,175h3v1h-3zM532,174h3v1h-3zM535,173h3v1h-3zM538,172h3v1h-3zM541,171h3v1h-3zM544,170h2v1h-2zM546,169h3v1h-3zM549,168h3v1h-3zM552,167h3v1h-3zM555,166h3v1h-3zM558,165h3v1h-3zM561,164h3v1h-3zM564,163h2v1h-2zM566,162h3v1h-3zM569,161h2v1h-2zM571,160h2v1h-2zM573,159h1v2h-1zM574,159h6v1h-6zM580,158h8v1h-8zM588,157h7v1h-7zM595,156h9v1h-9zM604,155h8v1h-8zM612,154h3v1h-3zM615,155h3v1h-3zM618,156h3v1h-3zM621,157h4v1h-4zM625,158h3v1h-3zM628,159h4v1h-4zM632,160h4v1h-4zM636,159h8v1h-8zM644,158h1v2h-1zM645,158h17v1h-17zM662,157h3v1h-3zM665,158h2v1h-2zM667,159h2v1h-2zM669,160h2v1h-2zM671,161h2v1h-2zM673,162h3v1h-3zM676,163h3v1h-3zM679,164h4v1h-4zM683,165h22v1h-22zM705,164h10v1h-10zM715,163h4v1h-4zM719,162h3v1h-3zM722,161h4v1h-4zM726,160h3v1h-3zM729,159h4v1h-4zM733,158h3v1h-3zM736,157h4v1h-4zM740,156h3v1h-3zM743,155h6v1h-6zM749,154h7v1h-7zM756,153h10v1h-10zM766,152h38v1h-38zM804,153h6v1h-6zM810,154h6v1h-6zM816,155h5v1h-5zM821,156h5v1h-5zM826,157h9v1h-9zM835,156h6v1h-6zM841,155h6v1h-6zM847,154h105v1h-105zM952,153h4v1h-4zM956,152h4v1h-4zM960,151h7v1h-7zM967,150h10v1h-10zM977,149h19v1h-19zM996,150h40v1h-40zM1036,151h2v1h-2zM1038,152h3v1h-3zM1041,153h2v1h-2zM1043,154h3v1h-3zM1046,155h2v1h-2zM1048,156h2v1h-2zM1050,157h1v1h-1zM1051,158h2v1h-2zM1053,159h1v1h-1zM1054,160h2v1h-2zM1056,161h2v1h-2zM1058,162h2v1h-2zM1060,163h2v1h-2zM1062,164h2v1h-2zM1064,165h2v1h-2zM1066,166h2v1h-2zM1068,167h2v1h-2zM1070,168h3v1h-3zM1073,169h3v1h-3zM1076,170h3v1h-3zM1079,171h4v1h-4zM1083,172h3v1h-3zM1086,173h15v1h-15zM1101,174h11v1h-11zM1112,175h10v1h-10zM1122,175h1v2h-1zM1123,176h18v1h-18zM1141,175h5v1h-5zM1146,174h5v1h-5zM1151,173h4v1h-4zM1155,172h3v1h-3zM1158,171h2v1h-2zM1160,170h3v1h-3zM1163,169h3v1h-3zM1166,168h2v1h-2zM1168,167h1v1h-1zM1169,166h2v1h-2zM1171,165h2v1h-2zM1173,164h1v1h-1zM1174,163h2v1h-2zM1176,162h1v1h-1zM1177,161h1v2h-1zM1178,161h1v1h-1zM1179,160h2v1h-2zM1181,159h2v1h-2zM1183,158h2v1h-2zM1185,157h2v1h-2zM1187,156h2v1h-2zM1189,155h1v1h-1zM1190,154h2v1h-2zM1192,153h2v1h-2zM1194,152h2v1h-2zM1196,151h2v1h-2zM1198,150h2v1h-2zM1200,149h2v1h-2zM1202,148h2v1h-2zM1204,147h2v1h-2zM1206,146h1v1h-1zM1207,145h2v1h-2zM1209,144h1v1h-1zM1210,143h1v1h-1zM1211,142h2v1h-2zM1213,141h1v1h-1zM1214,140h1v1h-1zM1215,139h1v1h-1zM1216,138h2v1h-2zM1218,137h1v1h-1zM1219,136h1v1h-1zM1220,135h1v1h-1zM1221,134h1v1h-1zM1222,133h1v1h-1zM1223,132h1v1h-1zM1224,131h1v1h-1zM1225,130h1v1h-1zM1226,129h1v1h-1zM1227,128h1v2h-1zM1228,128h1v1h-1zM1229,127h1v1h-1zM1230,126h2v1h-2zM1232,125h1v1h-1zM1233,124h1v1h-1zM1234,123h2v1h-2zM1236,122h1v1h-1zM1237,121h1v1h-1zM1238,120h2v1h-2zM1240,119h1v1h-1zM1241,118h2v1h-2zM1243,117h2v1h-2zM1245,116h2v1h-2zM1247,115h2v1h-2zM1249,114h1v1h-1zM1250,113h2v1h-2zM1252,112h2v1h-2zM1254,111h2v1h-2zM1256,110h3v1h-3zM1259,109h3v1h-3zM1262,108h4v1h-4zM1266,107h4v1h-4zM1270,106h4v1h-4zM1274,105h4v1h-4zM1278,104h4v1h-4zM1282,103h4v1h-4zM1286,102h4v1h-4zM1290,101h4v1h-4zM1294,100h4v1h-4zM1298,99h1v2h-1zM1299,99h4v1h-4zM1303,98h4v1h-4zM1307,97h5v1h-5zM1312,96h4v1h-4zM1316,95h5v1h-5zM1321,94h7v1h-7zM1328,93h6v1h-6zM1334,92h2v1h-2zM1336,93h5v1h-5zM1341,94h6v1h-6zM1347,95h4v1h-4zM1351,96h4v1h-4zM1355,97h4v1h-4zM1359,98h4v1h-4zM1363,99h6v1h-6zM1369,100h5v1h-5zM1374,101h5v1h-5zM1379,102h7v1h-7zM1386,103h7v1h-7zM1393,104h8v1h-8zM1401,105h17v1h-17zM1418,104h8v1h-8zM1426,103h8v1h-8zM1434,102h6v1h-6zM1440,103h2v1h-2zM1442,104h2v1h-2zM1444,105h3v1h-3zM1447,106h2v1h-2zM1449,107h3v1h-3zM1452,108h2v1h-2zM1454,109h2v1h-2zM1456,109h1v2h-1zM1457,110h2v1h-2zM1459,111h2v1h-2zM1461,112h1v1h-1zM1462,113h2v1h-2zM1464,114h2v1h-2zM1466,115h2v1h-2zM1468,116h2v1h-2zM1470,117h1v1h-1zM1471,118h1v1h-1zM1472,119h2v1h-2zM1474,120h1v1h-1zM1475,121h1v1h-1zM1476,122h2v1h-2zM1478,123h1v1h-1zM1479,124h2v1h-2zM1481,125h1v2h-1zM1482,126h1v1h-1zM1483,127h1v1h-1zM1484,128h1v1h-1zM1485,129h1v1h-1zM1486,130h1v1h-1zM1487,131h1v1h-1zM1488,132h1v1h-1zM1489,133h1v1h-1zM1490,134h1v1h-1zM1491,135h1v1h-1zM1492,136h1v1h-1zM1493,137h1v2h-1zM1494,138h1v1h-1zM1495,139h1v1h-1zM1496,140h1v1h-1zM1497,141h1v1h-1zM1498,142h1v1h-1zM1499,143h1v1h-1zM1500,144h1v1h-1zM1501,145h1v1h-1zM1502,146h1v1h-1zM1503,147h1v1h-1zM1504,148h1v1h-1zM1505,149h1v1h-1zM1506,150h2v1h-2zM1508,151h1v1h-1zM1509,152h1v1h-1zM1510,153h1v1h-1zM1511,154h1v1h-1zM1512,155h2v1h-2zM1514,156h1v1h-1zM1515,157h1v1h-1zM1516,158h1v1h-1zM1517,159h1v1h-1zM1518,160h1v1h-1zM1519,161h2v1h-2zM1521,162h2v1h-2zM1523,163h2v1h-2zM1525,164h2v1h-2zM1527,165h2v1h-2zM1529,166h2v1h-2zM1531,167h2v1h-2zM1533,168h1v1h-1zM1534,168h1v2h-1zM1535,170h1v1h-1zM1536,171h1v1h-1zM1537,172h1v1h-1zM1538,173h1v2h-1zM1539,175h1v1h-1zM1540,176h1v1h-1zM1541,177h1v1h-1zM1542,178h1v2h-1zM1543,180h1v1h-1zM1544,181h1v1h-1zM1545,182h1v1h-1zM1546,183h1v1h-1zM1547,184h1v2h-1zM1548,186h1v1h-1zM1549,187h1v1h-1zM1550,188h1v1h-1zM1551,189h1v1h-1zM1552,190h1v2h-1zM1553,192h1v1h-1zM1554,193h1v1h-1zM1555,194h1v1h-1zM1556,195h1v2h-1zM1557,197h1v1h-1zM1558,198h1v2h-1zM1559,200h1v2h-1zM1560,202h1v2h-1zM1561,204h1v1h-1zM1562,205h1v2h-1zM1563,207h1v2h-1zM1564,209h1v2h-1zM1565,211h1v1h-1zM1566,212h1v2h-1zM1567,214h1v1h-1zM1568,215h1v1h-1zM1569,216h1v2h-1zM1570,218h1v1h-1zM1571,219h1v1h-1zM1572,220h1v1h-1zM1573,221h1v2h-1zM1574,223h1v1h-1zM1575,224h1v1h-1zM1576,225h1v1h-1zM1577,226h1v2h-1zM1578,228h1v1h-1zM1579,229h1v1h-1zM1580,230h1v1h-1zM1581,231h1v2h-1zM1582,233h1v2h-1zM1583,235h1v1h-1zM1584,236h1v2h-1zM1585,238h1v2h-1zM1586,240h1v1h-1zM1587,241h1v2h-1zM1588,243h1v2h-1zM1589,245h1v1h-1zM1590,246h1v2h-1zM1591,248h1v2h-1zM1592,250h1v1h-1zM1593,251h1v2h-1zM1594,253h1v1h-1zM1595,254h1v2h-1zM1596,256h1v1h-1zM1597,257h1v2h-1zM1598,259h1v1h-1zM1599,260h1v2h-1zM1600,262h1v2h-1zM1601,264h1v1h-1zM1602,265h1v2h-1zM1603,267h1v1h-1zM1604,268h1v2h-1zM1605,270h1v1h-1zM1606,271h1v2h-1zM1607,272h1v1h-1zM1608,273h1v2h-1zM1609,275h1v1h-1zM1610,276h1v1h-1zM1611,277h1v1h-1zM1612,278h1v1h-1zM1613,279h1v1h-1zM1614,280h1v1h-1zM1615,281h1v1h-1zM1616,282h1v1h-1zM1617,283h1v1h-1zM1618,284h1v1h-1zM1619,285h1v1h-1zM1620,286h1v2h-1zM1621,288h1v1h-1zM1622,289h1v1h-1zM1623,290h1v1h-1zM1624,291h1v2h-1zM1625,293h1v2h-1zM1626,295h1v2h-1zM1627,297h1v2h-1zM1628,299h1v2h-1zM1629,301h1v1h-1zM1630,302h1v2h-1zM1631,304h1v2h-1zM1632,306h1v2h-1zM1633,308h1v2h-1zM1634,310h1v2h-1zM1635,312h1v2h-1zM1636,314h1v1h-1zM1637,315h1v2h-1zM1638,317h1v2h-1zM1639,319h1v2h-1zM1640,321h1v1h-1zM1641,322h1v2h-1zM1642,324h1v2h-1zM1643,326h1v1h-1zM1644,327h1v2h-1zM1645,329h1v1h-1zM1646,330h1v2h-1zM1647,332h1v2h-1zM1648,334h1v1h-1zM1649,335h1v2h-1zM1650,337h1v1h-1zM1651,338h1v2h-1zM1652,340h1v2h-1zM1653,342h1v2h-1zM1654,343h1v2h-1zM1655,345h1v1h-1zM1656,346h1v2h-1zM1657,348h1v2h-1zM1658,350h1v1h-1zM1659,351h1v2h-1zM1660,353h1v1h-1zM1661,354h1v2h-1zM1662,356h1v2h-1zM1663,358h1v1h-1zM1664,359h1v2h-1zM1665,361h1v1h-1zM1666,362h1v2h-1zM1667,364h1v1h-1zM1668,365h1v2h-1z"/>
<path fill="#ff00ff" d="M5,270h8v1h-8zM13,269h7v1h-7zM20,268h6v1h-6zM26,267h9v1h-9zM35,266h13v1h-13zM48,265h12v1h-12zM60,264h8v1h-8zM68,263h7v1h-7zM75,262h7v1h-7zM82,261h7v1h-7zM89,260h7v1h-7zM96,259h7v1h-7zM103,258h48v1h-48zM151,257h55v1h-55zM206,256h16v1h-16zM222,255h7v1h-7zM229,254h9v1h-9zM238,253h12v1h-12zM250,252h13v1h-13zM263,251h13v1h-13zM276,250h12v1h-12zM288,249h15v1h-15zM303,248h15v1h-15zM318,247h37v1h-37zM355,248h3v1h-3zM358,249h30v1h-30zM388,250h34v1h-34zM422,249h24v1h-24zM446,249h1v2h-1zM447,249h4v1h-4zM451,248h3v1h-3zM454,247h4v1h-4zM458,246h4v1h-4zM462,245h4v1h-4zM466,244h3v1h-3zM469,243h4v1h-4zM473,242h4v1h-4zM477,241h5v1h-5zM482,240h4v1h-4zM486,239h4v1h-4zM490,238h3v1h-3zM493,237h3v1h-3zM496,236h2v1h-2zM498,235h3v1h-3zM501,234h3v1h-3zM504,233h2v1h-2zM506,232h3v1h-3zM509,231h2v1h-2zM511,230h1v2h-1zM512,230h3v1h-3zM515,229h3v1h-3zM518,228h4v1h-4zM522,227h3v1h-3zM525,226h4v1h-4zM529,225h3v1h-3zM532,224h3v1h-3zM535,223h4v1h-4zM539,222h3v1h-3zM542,221h7v1h-7zM549,220h8v1h-8zM557,219h5v1h-5zM562,218h4v1h-4zM566,217h4v1h-4zM570,216h5v1h-5zM575,215h4v1h-4zM579,214h4v1h-4zM583,213h4v1h-4zM587,212h5v1h-5zM592,211h4v1h-4zM596,210h5v1h-5zM601,209h4v1h-4zM605,208h4v1h-4zM609,207h5v1h-5zM614,206h4v1h-4zM618,205h5v1h-5zM623,204h4v1h-4zM627,203h5v1h-5zM632,202h6v1h-6zM638,201h8v1h-8zM646,200h7v1h-7zM653,199h7v1h-7zM660,198h7v1h-7zM667,197h6v1h-6zM673,196h7v1h-7zM680,195h5v1h-5zM685,194h4v1h-4zM689,193h5v1h-5zM694,192h5v1h-5zM699,191h5v1h-5zM704,190h4v1h-4zM708,189h5v1h-5zM713,188h2v1h-2zM715,187h3v1h-3zM718,186h3v1h-3zM721,185h3v1h-3zM724,184h3v1h-3zM727,183h2v1h-2zM729,182h1v2h-1zM730,182h4v1h-4zM734,181h4v1h-4zM738,180h4v1h-4zM742,179h4v1h-4zM746,178h4v1h-4zM750,177h4v1h-4zM754,176h4v1h-4zM758,175h4v1h-4zM762,174h4v1h-4zM766,173h5v1h-5zM771,172h4v1h-4zM775,171h4v1h-4zM779,170h4v1h-4zM783,169h4v1h-4zM787,168h6v1h-6zM793,167h6v1h-6zM799,166h5v1h-5zM804,165h6v1h-6zM810,164h6v1h-6zM816,163h4v1h-4zM820,162h4v1h-4zM824,161h4v1h-4zM828,160h4v1h-4zM832,159h4v1h-4zM836,158h4v1h-4zM840,157h12v1h-12zM852,156h14v1h-14zM866,155h14v1h-14zM880,154h8v1h-8zM888,155h26v1h-26zM914,155h1v2h-1zM915,156h27v1h-27zM942,157h16v1h-16zM958,156h25v1h-25zM983,155h43v1h-43zM1026,154h9v1h-9zM1035,155h13v1h-13zM1048,155h1v2h-1zM1049,156h10v1h-10zM1059,157h9v1h-9zM1068,158h7v1h-7zM1075,159h7v1h-7zM1082,160h9v1h-9zM1091,161h10v1h-10zM1101,162h4v1h-4zM1105,161h10v1h-10zM1115,160h35v1h-35zM1150,159h9v1h-9zM1159,158h9v1h-9zM1168,157h7v1h-7zM1175,156h6v1h-6zM1181,155h6v1h-6zM1187,154h5v1h-5zM1192,153h5v1h-5zM1197,152h5v1h-5zM1202,151h5v1h-5zM1207,150h5v1h-5zM1212,149h6v1h-6zM1218,148h6v1h-6zM1224,147h7v1h-7zM1231,146h6v1h-6zM1237,145h9v1h-9zM1246,144h11v1h-11zM1257,143h9v1h-9zM1266,142h9v1h-9zM1275,141h9v1h-9zM1284,140h9v1h-9zM1293,139h9v1h-9zM1302,138h8v1h-8zM1310,137h9v1h-9zM1319,136h9v1h-9zM1328,135h9v1h-9zM1337,134h8v1h-8zM1345,133h10v1h-10zM1355,132h10v1h-10zM1365,131h10v1h-10zM1375,130h10v1h-10zM1385,129h10v1h-10zM1395,128h9v1h-9zM1404,127h10v1h-10zM1414,126h9v1h-9zM1423,125h9v1h-9zM1432,124h14v1h-14zM1446,125h18v1h-18zM1464,125h1v2h-1zM1465,126h9v1h-9zM1474,127h10v1h-10zM1484,128h16v1h-16zM1500,129h19v1h-19zM1519,130h14v1h-14zM1533,131h5v1h-5zM1538,132h4v1h-4zM1542,133h3v1h-3zM1545,134h3v1h-3zM1548,135h2v1h-2zM1550,136h3v1h-3zM1553,137h3v1h-3zM1556,138h2v1h-2zM1558,139h3v1h-3zM1561,140h2v1h-2zM1563,141h2v1h-2zM1565,142h2v1h-2zM1567,143h2v1h-2zM1569,144h2v1h-2zM1571,145h2v1h-2zM1573,146h2v1h-2zM1575,147h2v1h-2zM1577,148h2v1h-2zM1579,149h2v1h-2zM1581,150h2v1h-2zM1583,151h2v1h-2zM1585,152h1v1h-1zM1586,153h2v1h-2zM1588,154h2v1h-2zM1590,155h2v1h-2zM1592,156h2v1h-2zM1594,157h1v1h-1zM1595,158h2v1h-2zM1597,159h2v1h-2zM1599,160h2v1h-2zM1601,161h2v1h-2zM1603,162h1v1h-1zM1604,163h2v1h-2zM1606,164h2v1h-2zM1608,165h1v1h-1zM1609,166h2v1h-2zM1611,167h1v1h-1zM1612,168h2v1h-2zM1614,169h1v1h-1zM1615,170h1v1h-1zM1616,171h2v1h-2zM1618,172h1v1h-1zM1619,173h2v1h-2zM1621,174h1v1h-1zM1622,175h2v1h-2zM1624,176h1v1h-1zM1625,177h1v1h-1zM1626,177h1v2h-1zM1627,178h1v1h-1zM1628,179h1v1h-1zM1629,180h1v1h-1zM1630,181h1v1h-1zM1631,182h1v1h-1zM1632,183h1v1h-1zM1633,184h1v1h-1zM1634,185h1v1h-1zM1635,186h1v1h-1zM1636,187h1v1h-1zM1637,188h1v1h-1zM1638,189h1v1h-1zM1639,190h1v1h-1zM1640,191h1v1h-1zM1641,192h1v1h-1zM1642,193h1v1h-1zM1643,194h1v1h-1zM1644,195h1v1h-1zM1645,196h1v1h-1zM1646,197h1v1h-1zM1647,198h1v1h-1zM1648,199h1v1h-1zM1649,200h1v1h-1zM1650,201h1v1h-1zM1651,202h1v1h-1zM1652,203h1v1h-1zM1653,204h1v1h-1zM1654,205h1v1h-1zM1655,206h1v2h-1zM1656,208h1v1h-1zM1657,209h1v1h-1zM1658,210h1v1h-1zM1659,211h1v1h-1zM1660,212h1v1h-1zM1661,213h1v1h-1zM1662,214h1v1h-1zM1663,215h1v1h-1zM1664,216h1v1h-1zM1665,217h1v1h-1zM1666,218h1v1h-1zM1667,219h1v1h-1zM1668,220h1v1h-1z"/>
<path fill="#ff0000" d="M5,362h7v1h-7zM12,361h8v1h-8zM20,360h8v1h-8zM28,359h8v1h-8zM36,358h8v1h-8zM44,357h8v1h-8zM52,356h8v1h-8zM60,355h8v1h-8zM68,354h8v1h-8zM76,353h10v1h-10zM86,352h9v1h-9zM95,351h10v1h-10zM105,350h10v1h-10zM115,349h10v1h-10zM125,348h9v1h-9zM134,347h10v1h-10zM144,346h7v1h-7zM151,345h4v1h-4zM155,344h4v1h-4zM159,343h5v1h-5zM164,342h4v1h-4zM168,341h5v1h-5zM173,340h4v1h-4zM177,339h4v1h-4zM181,338h5v1h-5zM186,337h4v1h-4zM190,336h5v1h-5zM195,335h4v1h-4zM199,334h4v1h-4zM203,333h5v1h-5zM208,332h4v1h-4zM212,331h4v1h-4zM216,330h1v2h-1zM217,330h4v1h-4zM221,329h5v1h-5zM226,328h5v1h-5zM231,327h5v1h-5zM236,326h5v1h-5zM241,325h5v1h-5zM246,324h5v1h-5zM251,323h5v1h-5zM256,322h5v1h-5zM261,321h4v1h-4zM265,320h1v2h-1zM266,320h7v1h-7zM273,319h8v1h-8zM281,318h8v1h-8zM289,317h8v1h-8zM297,316h8v1h-8zM305,315h8v1h-8zM313,314h8v1h-8zM321,313h8v1h-8zM329,312h8v1h-8zM337,311h8v1h-8zM345,310h8v1h-8zM353,309h8v1h-8zM361,308h8v1h-8zM369,307h8v1h-8zM377,306h7v1h-7zM384,305h8v1h-8zM392,304h8v1h-8zM400,303h8v1h-8zM408,302h8v1h-8zM416,301h8v1h-8zM424,300h8v1h-8zM432,299h9v1h-9zM441,298h8v1h-8zM449,297h8v1h-8zM457,296h9v1h-9zM466,295h8v1h-8zM474,294h8v1h-8zM482,293h8v1h-8zM490,292h9v1h-9zM499,291h7v1h-7zM506,290h1v2h-1zM507,290h15v1h-15zM522,289h15v1h-15zM537,288h15v1h-15zM552,287h14v1h-14zM566,286h1v2h-1zM567,286h6v1h-6zM573,285h6v1h-6zM579,284h5v1h-5zM584,283h6v1h-6zM590,282h6v1h-6zM596,281h6v1h-6zM602,280h6v1h-6zM608,279h6v1h-6zM614,278h6v1h-6zM620,277h6v1h-6zM626,276h6v1h-6zM632,275h5v1h-5zM637,274h6v1h-6zM643,273h6v1h-6zM649,272h5v1h-5zM654,271h6v1h-6zM660,270h5v1h-5zM665,269h6v1h-6zM671,268h6v1h-6zM677,267h5v1h-5zM682,266h6v1h-6zM688,265h6v1h-6zM694,264h6v1h-6zM700,263h5v1h-5zM705,262h6v1h-6zM711,261h6v1h-6zM717,260h6v1h-6zM723,259h5v1h-5zM728,258h6v1h-6zM734,257h6v1h-6zM740,256h5v1h-5zM745,255h6v1h-6zM751,254h6v1h-6zM757,253h5v1h-5zM762,252h6v1h-6zM768,251h6v1h-6zM774,250h7v1h-7zM781,249h9v1h-9zM790,248h8v1h-8zM798,247h9v1h-9zM807,246h8v1h-8zM815,245h8v1h-8zM823,244h9v1h-9zM832,243h8v1h-8zM840,242h8v1h-8zM848,241h8v1h-8zM856,240h8v1h-8zM864,239h8v1h-8zM872,238h8v1h-8zM880,237h8v1h-8zM888,236h9v1h-9zM897,235h9v1h-9zM906,234h9v1h-9zM915,233h9v1h-9zM924,232h9v1h-9zM933,231h10v1h-10zM943,230h10v1h-10zM953,229h10v1h-10zM963,228h10v1h-10zM973,227h9v1h-9zM982,226h1v2h-1zM983,226h21v1h-21zM1004,225h21v1h-21zM1025,224h22v1h-22zM1047,223h30v1h-30zM1077,222h8v1h-8zM1085,221h9v1h-9zM1094,220h8v1h-8zM1102,219h9v1h-9zM1111,218h8v1h-8zM1119,217h8v1h-8zM1127,216h8v1h-8zM1135,215h7v1h-7zM1142,214h8v1h-8zM1150,213h8v1h-8zM1158,212h8v1h-8zM1166,211h8v1h-8zM1174,210h8v1h-8zM1182,209h8v1h-8zM1190,208h8v1h-8zM1198,207h9v1h-9zM1207,206h8v1h-8zM1215,205h8v1h-8zM1223,204h8v1h-8zM1231,203h9v1h-9zM1240,202h8v1h-8zM1248,201h8v1h-8zM1256,200h9v1h-9zM1265,199h8v1h-8zM1273,198h8v1h-8zM1281,197h9v1h-9zM1290,196h8v1h-8zM1298,195h8v1h-8zM1306,194h8v1h-8zM1314,193h8v1h-8zM1322,192h8v1h-8zM1330,191h8v1h-8zM1338,190h8v1h-8zM1346,189h10v1h-10zM1356,188h10v1h-10zM1366,187h10v1h-10zM1376,186h10v1h-10zM1386,185h10v1h-10zM1396,184h10v1h-10zM1406,183h11v1h-11zM1417,182h10v1h-10zM1427,181h11v1h-11zM1438,180h15v1h-15zM1453,179h17v1h-17zM1470,178h72v1h-72zM1542,179h11v1h-11zM1553,180h13v1h-13zM1566,181h12v1h-12zM1578,182h11v1h-11zM1589,183h10v1h-10zM1599,184h10v1h-10zM1609,185h10v1h-10zM1619,186h10v1h-10zM1629,187h7v1h-7zM1636,188h6v1h-6zM1642,189h6v1h-6zM1648,190h7v1h-7zM1655,191h6v1h-6zM1661,192h6v1h-6zM1667,193h2v1h-2z"/>
<rect x="5" y="57" width="1685" height="2" fill="#ff0000"/>
<rect x="5" y="189" width="1685" height="2" fill="#ff0000"/>
<rect x="5" y="321" width="1685" height="2" fill="#ff0000"/>
<rect x="5" y="487" width="1685" height="2" fill="#32cd32"/>
</g>
<g id="cn" shape-rendering="auto" fill="none" stroke="#ea1c24" stroke-width="2.6" stroke-linecap="butt" stroke-linejoin="miter">
<path d="M 883.00 397.29 Q 877.10 403.33 869.79 407.48"/>
<path d="M 880.64 402.01 L 896.07 402.01 Q 885.60 410.64 868.61 415.36"/>
<path d="M 877.81 406.39 L 881.82 410.50"/>
<path d="M 888.43 410.50 Q 880.88 417.01 870.73 421.50"/>
<path d="M 885.60 414.18 L 897.63 414.37 Q 888.43 425.04 869.55 428.58"/>
<path d="M 881.11 419.61 L 885.22 424.09"/>
<path d="M 915.09 397.90 L 917.22 402.01"/>
<path d="M 903.29 407.81 L 903.29 403.04 L 929.72 403.04 L 929.72 407.81"/>
<path d="M 913.21 406.54 L 901.55 414.42"/>
<path d="M 919.81 406.54 L 931.28 414.65"/>
<path d="M 905.18 415.60 L 927.84 415.60"/>
<path d="M 916.51 415.60 L 916.51 426.45"/>
<path d="M 901.64 426.55 L 931.14 426.55"/>
<path d="M 934.01 403.80 L 947.46 403.80"/>
<path d="M 940.48 397.66 L 935.29 414.09 L 947.46 414.09"/>
<path d="M 941.89 407.34 L 941.89 429.28"/>
<path d="M 933.54 422.20 L 947.93 419.84"/>
<path d="M 949.11 403.80 L 964.22 403.80"/>
<path d="M 947.23 410.17 L 965.40 410.17"/>
<path d="M 955.58 397.66 L 950.86 416.54 L 963.60 416.54 L 957.14 424.56"/>
<path d="M 949.82 420.88 L 960.91 428.34"/>
<path d="M 967.05 405.45 L 977.67 405.45"/>
<path d="M 972.47 398.14 L 972.47 424.56 Q 972.47 428.10 967.28 427.30"/>
<path d="M 966.34 416.16 L 977.19 412.86"/>
<path d="M 997.02 399.79 L 980.73 401.53"/>
<path d="M 980.73 401.53 L 980.73 414.65 Q 980.50 422.68 976.49 428.34"/>
<path d="M 980.73 411.11 L 998.43 411.11"/>
<path d="M 991.35 411.11 L 991.35 429.28"/>
<path d="M 1015.08 397.66 L 1015.08 408.75"/>
<path d="M 1015.08 402.48 L 1031.04 402.48"/>
<path d="M 1004.94 419.61 L 1004.94 408.85 L 1026.46 408.85 L 1026.46 419.61"/>
<path d="M 1004.94 417.72 L 1026.46 417.72"/>
<path d="M 1004.98 421.64 L 1000.60 428.34"/>
<path d="M 1010.36 421.26 L 1012.72 428.10"/>
<path d="M 1018.29 421.02 L 1020.56 427.63"/>
<path d="M 1026.08 421.50 L 1029.86 428.34"/>
<path d="M 1045.43 425.04 L 1045.43 401.44 L 1044.72 401.44 L 1033.16 417.86 L 1050.86 417.86"/>
<ellipse cx="1061.00" cy="412.53" rx="6.98" ry="11.89" stroke-width="2.9"/>
</g>
<rect x="4" y="319" width="6" height="6" fill="#ff0000"/>
<rect x="6" y="321" width="2" height="2" fill="#fff"/>
<rect x="1684" y="319" width="6" height="6" fill="#ff0000"/>
<rect x="1686" y="321" width="2" height="2" fill="#fff"/>
<rect x="4" y="485" width="6" height="6" fill="#32cd32"/>
<rect x="6" y="487" width="2" height="2" fill="#fff"/>
<rect x="1684" y="485" width="6" height="6" fill="#32cd32"/>
<rect x="1686" y="487" width="2" height="2" fill="#fff"/>
<g id="macd">
<rect x="5" y="575" width="1" height="27" fill="#c0c0c0"/>
<rect x="13" y="576" width="1" height="26" fill="#c0c0c0"/>
<rect x="21" y="577" width="1" height="25" fill="#c0c0c0"/>
<rect x="29" y="583" width="1" height="19" fill="#c0c0c0"/>
<rect x="37" y="589" width="1" height="13" fill="#c0c0c0"/>
<rect x="45" y="594" width="1" height="8" fill="#c0c0c0"/>
<rect x="53" y="598" width="1" height="4" fill="#c0c0c0"/>
<rect x="69" y="601" width="1" height="5" fill="#c0c0c0"/>
<rect x="77" y="601" width="1" height="7" fill="#c0c0c0"/>
<rect x="85" y="601" width="1" height="8" fill="#c0c0c0"/>
<rect x="93" y="601" width="1" height="10" fill="#c0c0c0"/>
<rect x="101" y="601" width="1" height="11" fill="#c0c0c0"/>
<rect x="109" y="601" width="1" height="12" fill="#c0c0c0"/>
<rect x="117" y="601" width="1" height="8" fill="#c0c0c0"/>
<rect x="125" y="601" width="1" height="15" fill="#c0c0c0"/>
<rect x="133" y="601" width="1" height="12" fill="#c0c0c0"/>
<rect x="141" y="601" width="1" height="10" fill="#c0c0c0"/>
<rect x="149" y="601" width="1" height="9" fill="#c0c0c0"/>
<rect x="157" y="601" width="1" height="7" fill="#c0c0c0"/>
<rect x="165" y="601" width="1" height="6" fill="#c0c0c0"/>
<rect x="173" y="601" width="1" height="6" fill="#c0c0c0"/>
<rect x="181" y="601" width="1" height="5" fill="#c0c0c0"/>
<rect x="189" y="601" width="1" height="4" fill="#c0c0c0"/>
<rect x="205" y="598" width="1" height="4" fill="#c0c0c0"/>
<rect x="213" y="595" width="1" height="7" fill="#c0c0c0"/>
<rect x="221" y="592" width="1" height="10" fill="#c0c0c0"/>
<rect x="229" y="590" width="1" height="12" fill="#c0c0c0"/>
<rect x="237" y="589" width="1" height="13" fill="#c0c0c0"/>
<rect x="245" y="590" width="1" height="12" fill="#c0c0c0"/>
<rect x="253" y="594" width="1" height="8" fill="#c0c0c0"/>
<rect x="261" y="600" width="1" height="2" fill="#c0c0c0"/>
<rect x="293" y="601" width="1" height="1" fill="#c0c0c0"/>
<rect x="309" y="601" width="1" height="3" fill="#c0c0c0"/>
<rect x="317" y="601" width="1" height="2" fill="#c0c0c0"/>
<rect x="325" y="601" width="1" height="1" fill="#c0c0c0"/>
<rect x="333" y="601" width="1" height="2" fill="#c0c0c0"/>
<rect x="341" y="601" width="1" height="3" fill="#c0c0c0"/>
<rect x="349" y="601" width="1" height="5" fill="#c0c0c0"/>
<rect x="357" y="601" width="1" height="6" fill="#c0c0c0"/>
<rect x="373" y="600" width="1" height="2" fill="#c0c0c0"/>
<rect x="381" y="599" width="1" height="3" fill="#c0c0c0"/>
<rect x="389" y="598" width="1" height="4" fill="#c0c0c0"/>
<rect x="397" y="597" width="1" height="5" fill="#c0c0c0"/>
<rect x="405" y="599" width="1" height="3" fill="#c0c0c0"/>
<rect x="413" y="594" width="1" height="8" fill="#c0c0c0"/>
<rect x="421" y="591" width="1" height="11" fill="#c0c0c0"/>
<rect x="429" y="588" width="1" height="14" fill="#c0c0c0"/>
<rect x="437" y="586" width="1" height="16" fill="#c0c0c0"/>
<rect x="445" y="582" width="1" height="20" fill="#c0c0c0"/>
<rect x="453" y="569" width="1" height="33" fill="#c0c0c0"/>
<rect x="461" y="562" width="1" height="40" fill="#c0c0c0"/>
<rect x="469" y="562" width="1" height="40" fill="#c0c0c0"/>
<rect x="477" y="560" width="1" height="42" fill="#c0c0c0"/>
<rect x="485" y="560" width="1" height="42" fill="#c0c0c0"/>
<rect x="493" y="561" width="1" height="41" fill="#c0c0c0"/>
<rect x="501" y="562" width="1" height="40" fill="#c0c0c0"/>
<rect x="509" y="560" width="1" height="42" fill="#c0c0c0"/>
<rect x="517" y="563" width="1" height="39" fill="#c0c0c0"/>
<rect x="525" y="566" width="1" height="36" fill="#c0c0c0"/>
<rect x="533" y="569" width="1" height="33" fill="#c0c0c0"/>
<rect x="541" y="571" width="1" height="31" fill="#c0c0c0"/>
<rect x="549" y="577" width="1" height="25" fill="#c0c0c0"/>
<rect x="557" y="582" width="1" height="20" fill="#c0c0c0"/>
<rect x="565" y="586" width="1" height="16" fill="#c0c0c0"/>
<rect x="573" y="588" width="1" height="14" fill="#c0c0c0"/>
<rect x="581" y="590" width="1" height="12" fill="#c0c0c0"/>
<rect x="589" y="591" width="1" height="11" fill="#c0c0c0"/>
<rect x="597" y="591" width="1" height="11" fill="#c0c0c0"/>
<rect x="605" y="593" width="1" height="9" fill="#c0c0c0"/>
<rect x="613" y="592" width="1" height="10" fill="#c0c0c0"/>
<rect x="621" y="591" width="1" height="11" fill="#c0c0c0"/>
<rect x="629" y="592" width="1" height="10" fill="#c0c0c0"/>
<rect x="637" y="591" width="1" height="11" fill="#c0c0c0"/>
<rect x="645" y="588" width="1" height="14" fill="#c0c0c0"/>
<rect x="653" y="586" width="1" height="16" fill="#c0c0c0"/>
<rect x="661" y="586" width="1" height="16" fill="#c0c0c0"/>
<rect x="669" y="591" width="1" height="11" fill="#c0c0c0"/>
<rect x="677" y="596" width="1" height="6" fill="#c0c0c0"/>
<rect x="685" y="598" width="1" height="4" fill="#c0c0c0"/>
<rect x="693" y="598" width="1" height="4" fill="#c0c0c0"/>
<rect x="701" y="596" width="1" height="6" fill="#c0c0c0"/>
<rect x="709" y="595" width="1" height="7" fill="#c0c0c0"/>
<rect x="717" y="593" width="1" height="9" fill="#c0c0c0"/>
<rect x="725" y="593" width="1" height="9" fill="#c0c0c0"/>
<rect x="733" y="591" width="1" height="11" fill="#c0c0c0"/>
<rect x="741" y="590" width="1" height="12" fill="#c0c0c0"/>
<rect x="749" y="590" width="1" height="12" fill="#c0c0c0"/>
<rect x="757" y="592" width="1" height="10" fill="#c0c0c0"/>
<rect x="765" y="593" width="1" height="9" fill="#c0c0c0"/>
<rect x="773" y="595" width="1" height="7" fill="#c0c0c0"/>
<rect x="781" y="596" width="1" height="6" fill="#c0c0c0"/>
<rect x="789" y="599" width="1" height="3" fill="#c0c0c0"/>
<rect x="797" y="600" width="1" height="2" fill="#c0c0c0"/>
<rect x="861" y="601" width="1" height="1" fill="#c0c0c0"/>
<rect x="877" y="600" width="1" height="2" fill="#c0c0c0"/>
<rect x="885" y="599" width="1" height="3" fill="#c0c0c0"/>
<rect x="893" y="597" width="1" height="5" fill="#c0c0c0"/>
<rect x="901" y="596" width="1" height="6" fill="#c0c0c0"/>
<rect x="909" y="595" width="1" height="7" fill="#c0c0c0"/>
<rect x="917" y="596" width="1" height="6" fill="#c0c0c0"/>
<rect x="925" y="597" width="1" height="5" fill="#c0c0c0"/>
<rect x="933" y="598" width="1" height="4" fill="#c0c0c0"/>
<rect x="941" y="598" width="1" height="4" fill="#c0c0c0"/>
<rect x="949" y="599" width="1" height="3" fill="#c0c0c0"/>
<rect x="957" y="597" width="1" height="5" fill="#c0c0c0"/>
<rect x="965" y="596" width="1" height="6" fill="#c0c0c0"/>
<rect x="973" y="597" width="1" height="5" fill="#c0c0c0"/>
<rect x="981" y="599" width="1" height="3" fill="#c0c0c0"/>
<rect x="989" y="600" width="1" height="2" fill="#c0c0c0"/>
<rect x="1005" y="601" width="1" height="2" fill="#c0c0c0"/>
<rect x="1013" y="601" width="1" height="3" fill="#c0c0c0"/>
<rect x="1021" y="601" width="1" height="3" fill="#c0c0c0"/>
<rect x="1029" y="601" width="1" height="4" fill="#c0c0c0"/>
<rect x="1037" y="601" width="1" height="5" fill="#c0c0c0"/>
<rect x="1045" y="601" width="1" height="10" fill="#c0c0c0"/>
<rect x="1053" y="601" width="1" height="18" fill="#c0c0c0"/>
<rect x="1061" y="601" width="1" height="19" fill="#c0c0c0"/>
<rect x="1069" y="601" width="1" height="20" fill="#c0c0c0"/>
<rect x="1077" y="601" width="1" height="19" fill="#c0c0c0"/>
<rect x="1085" y="601" width="1" height="18" fill="#c0c0c0"/>
<rect x="1093" y="601" width="1" height="16" fill="#c0c0c0"/>
<rect x="1101" y="601" width="1" height="13" fill="#c0c0c0"/>
<rect x="1109" y="601" width="1" height="10" fill="#c0c0c0"/>
<rect x="1117" y="601" width="1" height="6" fill="#c0c0c0"/>
<rect x="1125" y="601" width="1" height="4" fill="#c0c0c0"/>
<rect x="1141" y="600" width="1" height="2" fill="#c0c0c0"/>
<rect x="1149" y="595" width="1" height="7" fill="#c0c0c0"/>
<rect x="1157" y="589" width="1" height="13" fill="#c0c0c0"/>
<rect x="1165" y="585" width="1" height="17" fill="#c0c0c0"/>
<rect x="1173" y="578" width="1" height="24" fill="#c0c0c0"/>
<rect x="1181" y="573" width="1" height="29" fill="#c0c0c0"/>
<rect x="1189" y="571" width="1" height="31" fill="#c0c0c0"/>
<rect x="1197" y="569" width="1" height="33" fill="#c0c0c0"/>
<rect x="1205" y="569" width="1" height="33" fill="#c0c0c0"/>
<rect x="1213" y="568" width="1" height="34" fill="#c0c0c0"/>
<rect x="1221" y="568" width="1" height="34" fill="#c0c0c0"/>
<rect x="1229" y="568" width="1" height="34" fill="#c0c0c0"/>
<rect x="1237" y="571" width="1" height="31" fill="#c0c0c0"/>
<rect x="1245" y="575" width="1" height="27" fill="#c0c0c0"/>
<rect x="1253" y="579" width="1" height="23" fill="#c0c0c0"/>
<rect x="1261" y="583" width="1" height="19" fill="#c0c0c0"/>
<rect x="1269" y="586" width="1" height="16" fill="#c0c0c0"/>
<rect x="1277" y="590" width="1" height="12" fill="#c0c0c0"/>
<rect x="1285" y="592" width="1" height="10" fill="#c0c0c0"/>
<rect x="1293" y="593" width="1" height="9" fill="#c0c0c0"/>
<rect x="1301" y="593" width="1" height="9" fill="#c0c0c0"/>
<rect x="1309" y="592" width="1" height="10" fill="#c0c0c0"/>
<rect x="1317" y="592" width="1" height="10" fill="#c0c0c0"/>
<rect x="1325" y="589" width="1" height="13" fill="#c0c0c0"/>
<rect x="1333" y="588" width="1" height="14" fill="#c0c0c0"/>
<rect x="1341" y="586" width="1" height="16" fill="#c0c0c0"/>
<rect x="1349" y="589" width="1" height="13" fill="#c0c0c0"/>
<rect x="1357" y="592" width="1" height="10" fill="#c0c0c0"/>
<rect x="1365" y="595" width="1" height="7" fill="#c0c0c0"/>
<rect x="1373" y="596" width="1" height="6" fill="#c0c0c0"/>
<rect x="1381" y="597" width="1" height="5" fill="#c0c0c0"/>
<rect x="1389" y="597" width="1" height="5" fill="#c0c0c0"/>
<rect x="1397" y="597" width="1" height="5" fill="#c0c0c0"/>
<rect x="1405" y="598" width="1" height="4" fill="#c0c0c0"/>
<rect x="1413" y="599" width="1" height="3" fill="#c0c0c0"/>
<rect x="1421" y="598" width="1" height="4" fill="#c0c0c0"/>
<rect x="1429" y="597" width="1" height="5" fill="#c0c0c0"/>
<rect x="1437" y="597" width="1" height="5" fill="#c0c0c0"/>
<rect x="1445" y="601" width="1" height="5" fill="#c0c0c0"/>
<rect x="1453" y="601" width="1" height="14" fill="#c0c0c0"/>
<rect x="1461" y="601" width="1" height="20" fill="#c0c0c0"/>
<rect x="1469" y="601" width="1" height="25" fill="#c0c0c0"/>
<rect x="1477" y="601" width="1" height="31" fill="#c0c0c0"/>
<rect x="1485" y="601" width="1" height="39" fill="#c0c0c0"/>
<rect x="1493" y="601" width="1" height="44" fill="#c0c0c0"/>
<rect x="1501" y="601" width="1" height="45" fill="#c0c0c0"/>
<rect x="1509" y="601" width="1" height="45" fill="#c0c0c0"/>
<rect x="1517" y="601" width="1" height="48" fill="#c0c0c0"/>
<rect x="1525" y="601" width="1" height="45" fill="#c0c0c0"/>
<rect x="1533" y="601" width="1" height="42" fill="#c0c0c0"/>
<rect x="1541" y="601" width="1" height="50" fill="#c0c0c0"/>
<rect x="1549" y="601" width="1" height="58" fill="#c0c0c0"/>
<rect x="1557" y="601" width="1" height="64" fill="#c0c0c0"/>
<rect x="1565" y="601" width="1" height="72" fill="#c0c0c0"/>
<rect x="1573" y="601" width="1" height="74" fill="#c0c0c0"/>
<rect x="1581" y="601" width="1" height="76" fill="#c0c0c0"/>
<rect x="1589" y="601" width="1" height="77" fill="#c0c0c0"/>
<rect x="1597" y="601" width="1" height="77" fill="#c0c0c0"/>
<rect x="1605" y="601" width="1" height="76" fill="#c0c0c0"/>
<rect x="1613" y="601" width="1" height="74" fill="#c0c0c0"/>
<rect x="1621" y="601" width="1" height="75" fill="#c0c0c0"/>
<rect x="1629" y="601" width="1" height="83" fill="#c0c0c0"/>
<rect x="1637" y="601" width="1" height="95" fill="#c0c0c0"/>
<rect x="1645" y="601" width="1" height="100" fill="#c0c0c0"/>
<rect x="1653" y="601" width="1" height="105" fill="#c0c0c0"/>
<rect x="1661" y="601" width="1" height="107" fill="#c0c0c0"/>
<rect x="1669" y="601" width="1" height="108" fill="#c0c0c0"/>
<path fill="#ff0000" d="M5,577h3v1h-3zM11,577h3v1h-3zM17,577h3v1h-3zM23,577h3v1h-3zM29,577h1v1h-1zM30,578h2v1h-2zM35,578h3v1h-3zM41,579h3v1h-3zM47,580h1v1h-1zM48,581h2v1h-2zM53,582h3v1h-3zM59,584h2v1h-2zM61,585h1v1h-1zM65,586h2v1h-2zM67,587h1v1h-1zM71,588h1v1h-1zM72,589h2v1h-2zM77,591h2v1h-2zM79,592h1v1h-1zM83,593h1v1h-1zM84,594h2v1h-2zM89,596h1v1h-1zM90,597h1v1h-1zM91,598h1v1h-1zM95,600h2v1h-2zM97,601h1v1h-1zM101,602h1v1h-1zM102,603h2v1h-2zM107,604h1v1h-1zM108,605h2v1h-2zM113,606h2v1h-2zM115,607h1v1h-1zM119,608h3v1h-3zM125,609h3v1h-3zM131,610h3v1h-3zM137,611h3v1h-3zM143,611h3v1h-3zM149,612h3v1h-3zM155,611h3v1h-3zM161,611h3v1h-3zM167,610h3v1h-3zM173,610h3v1h-3zM179,609h3v1h-3zM185,609h3v1h-3zM191,608h3v1h-3zM197,607h3v1h-3zM203,606h3v1h-3zM209,605h1v1h-1zM210,604h2v1h-2zM215,603h3v1h-3zM221,602h2v1h-2zM223,601h1v1h-1zM227,600h3v1h-3zM233,599h2v1h-2zM235,598h1v1h-1zM239,597h3v1h-3zM245,596h2v1h-2zM247,595h1v1h-1zM251,594h3v1h-3zM257,594h1v1h-1zM258,593h2v1h-2zM263,593h3v1h-3zM269,593h3v1h-3zM275,593h3v1h-3zM281,594h3v1h-3zM287,594h2v1h-2zM289,595h1v1h-1zM293,595h1v1h-1zM294,596h2v1h-2zM299,597h3v1h-3zM305,598h3v1h-3zM311,599h3v1h-3zM317,600h3v1h-3zM323,600h2v1h-2zM325,601h1v1h-1zM329,601h3v1h-3zM335,602h3v1h-3zM341,602h3v1h-3zM347,603h3v1h-3zM353,603h3v1h-3zM359,604h3v1h-3zM365,604h3v1h-3zM371,603h3v1h-3zM377,603h3v1h-3zM383,602h3v1h-3zM389,602h3v1h-3zM395,601h3v1h-3zM401,601h2v1h-2zM403,600h1v1h-1zM407,600h3v1h-3zM413,599h3v1h-3zM419,598h3v1h-3zM425,597h3v1h-3zM431,596h1v1h-1zM432,595h2v1h-2zM437,594h2v1h-2zM439,593h1v1h-1zM443,592h2v1h-2zM445,591h1v1h-1zM449,590h1v1h-1zM450,589h2v1h-2zM455,587h2v1h-2zM457,586h1v1h-1zM461,584h2v1h-2zM463,583h1v1h-1zM467,581h2v1h-2zM469,580h1v1h-1zM473,578h2v1h-2zM475,577h1v1h-1zM479,575h2v1h-2zM481,574h1v1h-1zM485,572h3v1h-3zM491,570h2v1h-2zM493,569h1v1h-1zM497,568h1v1h-1zM498,567h2v1h-2zM503,565h2v1h-2zM505,564h1v1h-1zM509,562h1v2h-1zM510,562h2v1h-2zM515,562h1v1h-1zM516,561h2v1h-2zM521,561h3v1h-3zM527,561h3v1h-3zM533,561h1v1h-1zM534,562h2v1h-2zM539,562h1v1h-1zM540,563h2v1h-2zM545,563h1v1h-1zM546,564h2v1h-2zM551,565h3v1h-3zM557,566h1v1h-1zM558,567h2v1h-2zM563,568h1v1h-1zM564,569h2v1h-2zM569,570h1v1h-1zM570,571h2v1h-2zM575,573h2v1h-2zM577,574h1v1h-1zM581,575h1v1h-1zM582,576h2v1h-2zM587,578h2v1h-2zM589,579h1v1h-1zM593,580h2v1h-2zM595,581h1v1h-1zM599,582h2v1h-2zM601,583h1v1h-1zM605,584h3v1h-3zM611,585h1v1h-1zM612,586h2v1h-2zM617,587h2v1h-2zM619,587h1v2h-1zM623,588h3v1h-3zM629,589h3v1h-3zM635,589h3v1h-3zM641,589h3v1h-3zM647,589h3v1h-3zM653,589h3v1h-3zM659,589h3v1h-3zM665,589h3v1h-3zM671,589h3v1h-3zM677,589h3v1h-3zM683,589h1v1h-1zM684,589h1v2h-1zM685,590h1v1h-1zM689,590h3v1h-3zM695,591h3v1h-3zM701,591h3v1h-3zM707,592h3v1h-3zM713,592h3v1h-3zM719,592h3v1h-3zM725,592h3v1h-3zM731,592h3v1h-3zM737,592h3v1h-3zM743,592h3v1h-3zM749,592h3v1h-3zM755,592h3v1h-3zM761,591h3v1h-3zM767,591h3v1h-3zM773,591h3v1h-3zM779,591h3v1h-3zM785,591h3v1h-3zM791,592h3v1h-3zM797,592h1v1h-1zM798,593h2v1h-2zM803,593h3v1h-3zM809,594h2v1h-2zM811,595h1v1h-1zM815,596h3v1h-3zM821,597h3v1h-3zM827,598h3v1h-3zM833,599h3v1h-3zM839,600h3v1h-3zM845,601h3v1h-3zM851,601h3v1h-3zM857,601h3v1h-3zM863,601h3v1h-3zM869,601h3v1h-3zM875,601h3v1h-3zM881,601h3v1h-3zM887,601h1v1h-1zM888,600h1v2h-1zM889,600h1v1h-1zM893,600h3v1h-3zM899,600h2v1h-2zM901,599h1v1h-1zM905,599h3v1h-3zM911,599h2v1h-2zM913,598h1v1h-1zM917,598h3v1h-3zM923,598h1v1h-1zM924,597h2v1h-2zM929,597h3v1h-3zM935,596h3v1h-3zM941,596h3v1h-3zM947,596h3v1h-3zM953,596h3v1h-3zM959,596h3v1h-3zM965,596h3v1h-3zM971,596h3v1h-3zM977,596h3v1h-3zM983,597h3v1h-3zM989,597h3v1h-3zM995,597h1v1h-1zM996,598h2v1h-2zM1001,598h3v1h-3zM1007,598h3v1h-3zM1013,599h3v1h-3zM1019,600h3v1h-3zM1025,600h2v1h-2zM1027,601h1v1h-1zM1031,601h3v1h-3zM1037,602h3v1h-3zM1043,603h3v1h-3zM1049,604h3v1h-3zM1055,606h3v1h-3zM1061,607h1v2h-1zM1062,608h2v1h-2zM1067,609h3v1h-3zM1073,611h3v1h-3zM1079,612h2v1h-2zM1081,613h1v1h-1zM1085,613h1v1h-1zM1086,614h2v1h-2zM1091,615h3v1h-3zM1097,615h1v1h-1zM1098,616h2v1h-2zM1103,616h3v1h-3zM1109,617h3v1h-3zM1115,617h2v1h-2zM1117,616h1v1h-1zM1121,616h3v1h-3zM1127,615h1v1h-1zM1128,614h1v2h-1zM1129,614h1v1h-1zM1133,613h3v1h-3zM1139,611h2v1h-2zM1141,610h1v2h-1zM1145,609h2v1h-2zM1147,608h1v1h-1zM1151,607h2v1h-2zM1153,606h1v1h-1zM1157,604h3v1h-3zM1163,602h1v1h-1zM1164,601h2v1h-2zM1169,599h1v1h-1zM1170,598h2v1h-2zM1175,596h1v1h-1zM1176,595h2v1h-2zM1181,593h1v1h-1zM1182,592h2v1h-2zM1187,590h1v1h-1zM1188,589h2v1h-2zM1193,587h1v1h-1zM1194,586h1v1h-1zM1195,585h1v1h-1zM1199,583h2v1h-2zM1201,582h1v1h-1zM1205,580h2v1h-2zM1207,579h1v1h-1zM1211,577h2v1h-2zM1213,576h1v1h-1zM1217,575h2v1h-2zM1219,574h1v1h-1zM1223,573h3v1h-3zM1229,571h3v1h-3zM1235,570h3v1h-3zM1241,569h3v1h-3zM1247,569h3v1h-3zM1253,569h1v1h-1zM1254,569h1v2h-1zM1255,570h1v1h-1zM1259,570h2v1h-2zM1261,571h1v1h-1zM1265,571h3v1h-3zM1271,573h1v1h-1zM1272,573h1v2h-1zM1273,574h1v1h-1zM1277,575h1v1h-1zM1278,576h2v1h-2zM1283,577h1v1h-1zM1284,578h2v1h-2zM1289,579h1v1h-1zM1290,580h2v1h-2zM1295,581h1v1h-1zM1296,582h2v1h-2zM1301,583h1v1h-1zM1302,584h2v1h-2zM1307,585h1v1h-1zM1308,586h2v1h-2zM1313,587h3v1h-3zM1319,588h3v1h-3zM1325,588h2v1h-2zM1327,589h1v1h-1zM1331,589h3v1h-3zM1337,589h3v1h-3zM1343,589h3v1h-3zM1349,589h3v1h-3zM1355,589h3v1h-3zM1361,590h3v1h-3zM1367,590h3v1h-3zM1373,590h1v1h-1zM1374,591h2v1h-2zM1379,591h3v1h-3zM1385,591h3v1h-3zM1391,591h2v1h-2zM1393,592h1v1h-1zM1397,592h3v1h-3zM1403,592h2v1h-2zM1405,593h1v1h-1zM1409,593h3v1h-3zM1415,594h3v1h-3zM1421,595h1v1h-1zM1422,595h1v2h-1zM1423,596h1v1h-1zM1427,596h3v1h-3zM1433,597h3v1h-3zM1439,597h3v1h-3zM1445,598h3v1h-3zM1451,599h3v1h-3zM1457,601h2v1h-2zM1459,602h1v1h-1zM1463,603h1v1h-1zM1464,604h2v1h-2zM1469,605h1v1h-1zM1470,606h2v1h-2zM1475,607h1v2h-1zM1476,608h1v1h-1zM1477,609h1v1h-1zM1481,611h1v1h-1zM1482,612h2v1h-2zM1487,615h1v2h-1zM1488,616h2v1h-2zM1493,619h1v1h-1zM1494,620h2v1h-2zM1499,623h1v1h-1zM1500,624h2v1h-2zM1505,627h2v1h-2zM1507,628h1v1h-1zM1511,630h1v1h-1zM1512,631h2v1h-2zM1517,634h2v1h-2zM1519,635h1v1h-1zM1523,637h1v1h-1zM1524,638h1v1h-1zM1525,639h1v1h-1zM1529,640h3v1h-3zM1535,641h2v1h-2zM1537,642h1v1h-1zM1541,643h2v1h-2zM1543,644h1v1h-1zM1547,646h2v1h-2zM1549,647h1v1h-1zM1553,648h1v1h-1zM1554,649h2v1h-2zM1559,650h1v1h-1zM1560,651h2v1h-2zM1565,652h1v1h-1zM1566,653h2v1h-2zM1571,655h1v1h-1zM1572,656h2v1h-2zM1577,658h3v1h-3zM1583,660h3v1h-3zM1589,662h2v1h-2zM1591,663h1v1h-1zM1595,665h2v1h-2zM1597,666h1v1h-1zM1601,667h1v1h-1zM1602,668h2v1h-2zM1607,670h3v1h-3zM1613,672h3v1h-3zM1619,673h1v1h-1zM1620,674h2v1h-2zM1625,675h3v1h-3zM1631,676h1v1h-1zM1632,677h2v1h-2zM1637,678h1v1h-1zM1638,679h2v1h-2zM1643,681h2v1h-2zM1645,682h1v1h-1zM1649,683h1v1h-1zM1650,684h2v1h-2zM1655,686h2v1h-2zM1657,687h1v1h-1zM1661,689h3v1h-3zM1667,691h1v1h-1zM1668,692h1v1h-1z"/>
</g>
<g id="rsi">
<path fill="#c0c0c0" d="M6,766h3v1h-3zM12,766h3v1h-3zM18,766h3v1h-3zM24,766h3v1h-3zM30,766h3v1h-3zM36,766h3v1h-3zM42,766h3v1h-3zM48,766h3v1h-3zM54,766h3v1h-3zM60,766h3v1h-3zM66,766h3v1h-3zM72,766h3v1h-3zM78,766h3v1h-3zM84,766h3v1h-3zM90,766h3v1h-3zM96,766h3v1h-3zM102,766h3v1h-3zM108,766h3v1h-3zM114,766h3v1h-3zM120,766h3v1h-3zM126,766h3v1h-3zM132,766h3v1h-3zM138,766h3v1h-3zM144,766h3v1h-3zM150,766h3v1h-3zM156,766h3v1h-3zM162,766h3v1h-3zM168,766h3v1h-3zM174,766h3v1h-3zM180,766h3v1h-3zM186,766h3v1h-3zM192,766h3v1h-3zM198,766h3v1h-3zM204,766h3v1h-3zM210,766h3v1h-3zM216,766h3v1h-3zM222,766h3v1h-3zM228,766h3v1h-3zM234,766h3v1h-3zM240,766h3v1h-3zM246,766h3v1h-3zM252,766h3v1h-3zM258,766h3v1h-3zM264,766h3v1h-3zM270,766h3v1h-3zM276,766h3v1h-3zM282,766h3v1h-3zM288,766h3v1h-3zM294,766h3v1h-3zM300,766h3v1h-3zM306,766h3v1h-3zM312,766h3v1h-3zM318,766h3v1h-3zM324,766h3v1h-3zM330,766h3v1h-3zM336,766h3v1h-3zM342,766h3v1h-3zM348,766h3v1h-3zM354,766h3v1h-3zM360,766h3v1h-3zM366,766h3v1h-3zM372,766h3v1h-3zM378,766h3v1h-3zM384,766h3v1h-3zM390,766h3v1h-3zM396,766h3v1h-3zM402,766h3v1h-3zM408,766h3v1h-3zM414,766h3v1h-3zM420,766h3v1h-3zM426,766h3v1h-3zM432,766h3v1h-3zM438,766h3v1h-3zM444,766h3v1h-3zM450,766h3v1h-3zM456,766h3v1h-3zM462,766h3v1h-3zM468,766h3v1h-3zM474,766h3v1h-3zM480,766h3v1h-3zM486,766h3v1h-3zM492,766h3v1h-3zM498,766h3v1h-3zM504,766h3v1h-3zM510,766h3v1h-3zM516,766h3v1h-3zM522,766h3v1h-3zM528,766h3v1h-3zM534,766h3v1h-3zM540,766h3v1h-3zM546,766h3v1h-3zM552,766h3v1h-3zM558,766h3v1h-3zM564,766h3v1h-3zM570,766h3v1h-3zM576,766h3v1h-3zM582,766h3v1h-3zM588,766h3v1h-3zM594,766h3v1h-3zM600,766h3v1h-3zM606,766h3v1h-3zM612,766h3v1h-3zM618,766h3v1h-3zM624,766h3v1h-3zM630,766h3v1h-3zM636,766h3v1h-3zM642,766h3v1h-3zM648,766h3v1h-3zM654,766h3v1h-3zM660,766h3v1h-3zM666,766h3v1h-3zM672,766h3v1h-3zM678,766h3v1h-3zM684,766h3v1h-3zM690,766h3v1h-3zM696,766h3v1h-3zM702,766h3v1h-3zM708,766h3v1h-3zM714,766h3v1h-3zM720,766h3v1h-3zM726,766h3v1h-3zM732,766h3v1h-3zM738,766h3v1h-3zM744,766h3v1h-3zM750,766h3v1h-3zM756,766h3v1h-3zM762,766h3v1h-3zM768,766h3v1h-3zM774,766h3v1h-3zM780,766h3v1h-3zM786,766h3v1h-3zM792,766h3v1h-3zM798,766h3v1h-3zM804,766h3v1h-3zM810,766h3v1h-3zM816,766h3v1h-3zM822,766h3v1h-3zM828,766h3v1h-3zM834,766h3v1h-3zM840,766h3v1h-3zM846,766h3v1h-3zM852,766h3v1h-3zM858,766h3v1h-3zM864,766h3v1h-3zM870,766h3v1h-3zM876,766h3v1h-3zM882,766h3v1h-3zM888,766h3v1h-3zM894,766h3v1h-3zM900,766h3v1h-3zM906,766h3v1h-3zM912,766h3v1h-3zM918,766h3v1h-3zM924,766h3v1h-3zM930,766h3v1h-3zM936,766h3v1h-3zM942,766h3v1h-3zM948,766h3v1h-3zM954,766h3v1h-3zM960,766h3v1h-3zM966,766h3v1h-3zM972,766h3v1h-3zM978,766h3v1h-3zM984,766h3v1h-3zM990,766h3v1h-3zM996,766h3v1h-3zM1002,766h3v1h-3zM1008,766h3v1h-3zM1014,766h3v1h-3zM1020,766h3v1h-3zM1026,766h3v1h-3zM1032,766h3v1h-3zM1038,766h3v1h-3zM1044,766h3v1h-3zM1050,766h3v1h-3zM1056,766h3v1h-3zM1062,766h3v1h-3zM1068,766h3v1h-3zM1074,766h3v1h-3zM1080,766h3v1h-3zM1086,766h3v1h-3zM1092,766h3v1h-3zM1098,766h3v1h-3zM1104,766h3v1h-3zM1110,766h3v1h-3zM1116,766h3v1h-3zM1122,766h3v1h-3zM1128,766h3v1h-3zM1134,766h3v1h-3zM1140,766h3v1h-3zM1146,766h3v1h-3zM1152,766h3v1h-3zM1158,766h3v1h-3zM1164,766h3v1h-3zM1170,766h3v1h-3zM1176,766h3v1h-3zM1182,766h3v1h-3zM1188,766h3v1h-3zM1194,766h3v1h-3zM1200,766h3v1h-3zM1206,766h3v1h-3zM1212,766h3v1h-3zM1218,766h3v1h-3zM1224,766h3v1h-3zM1230,766h3v1h-3zM1236,766h3v1h-3zM1242,766h3v1h-3zM1248,766h3v1h-3zM1254,766h3v1h-3zM1260,766h3v1h-3zM1266,766h3v1h-3zM1272,766h3v1h-3zM1278,766h3v1h-3zM1284,766h3v1h-3zM1290,766h3v1h-3zM1296,766h3v1h-3zM1302,766h3v1h-3zM1308,766h3v1h-3zM1314,766h3v1h-3zM1320,766h3v1h-3zM1326,766h3v1h-3zM1332,766h3v1h-3zM1338,766h3v1h-3zM1344,766h3v1h-3zM1350,766h3v1h-3zM1356,766h3v1h-3zM1362,766h3v1h-3zM1368,766h3v1h-3zM1374,766h3v1h-3zM1380,766h3v1h-3zM1386,766h3v1h-3zM1392,766h3v1h-3zM1398,766h3v1h-3zM1404,766h3v1h-3zM1410,766h3v1h-3zM1416,766h3v1h-3zM1422,766h3v1h-3zM1428,766h3v1h-3zM1434,766h3v1h-3zM1440,766h3v1h-3zM1446,766h3v1h-3zM1452,766h3v1h-3zM1458,766h3v1h-3zM1464,766h3v1h-3zM1470,766h3v1h-3zM1476,766h3v1h-3zM1482,766h3v1h-3zM1488,766h3v1h-3zM1494,766h3v1h-3zM1500,766h3v1h-3zM1506,766h3v1h-3zM1512,766h3v1h-3zM1518,766h3v1h-3zM1524,766h3v1h-3zM1530,766h3v1h-3zM1536,766h3v1h-3zM1542,766h3v1h-3zM1548,766h3v1h-3zM1554,766h3v1h-3zM1560,766h3v1h-3zM1566,766h3v1h-3zM1572,766h3v1h-3zM1578,766h3v1h-3zM1584,766h3v1h-3zM1590,766h3v1h-3zM1596,766h3v1h-3zM1602,766h3v1h-3zM1608,766h3v1h-3zM1614,766h3v1h-3zM1620,766h3v1h-3zM1626,766h3v1h-3zM1632,766h3v1h-3zM1638,766h3v1h-3zM1644,766h3v1h-3zM1650,766h3v1h-3zM1656,766h3v1h-3zM1662,766h3v1h-3zM1668,766h3v1h-3zM1674,766h3v1h-3zM1680,766h3v1h-3zM1686,766h3v1h-3z"/>
<path fill="#c0c0c0" d="M6,827h3v1h-3zM12,827h3v1h-3zM18,827h3v1h-3zM24,827h3v1h-3zM30,827h3v1h-3zM36,827h3v1h-3zM42,827h3v1h-3zM48,827h3v1h-3zM54,827h3v1h-3zM60,827h3v1h-3zM66,827h3v1h-3zM72,827h3v1h-3zM78,827h3v1h-3zM84,827h3v1h-3zM90,827h3v1h-3zM96,827h3v1h-3zM102,827h3v1h-3zM108,827h3v1h-3zM114,827h3v1h-3zM120,827h3v1h-3zM126,827h3v1h-3zM132,827h3v1h-3zM138,827h3v1h-3zM144,827h3v1h-3zM150,827h3v1h-3zM156,827h3v1h-3zM162,827h3v1h-3zM168,827h3v1h-3zM174,827h3v1h-3zM180,827h3v1h-3zM186,827h3v1h-3zM192,827h3v1h-3zM198,827h3v1h-3zM204,827h3v1h-3zM210,827h3v1h-3zM216,827h3v1h-3zM222,827h3v1h-3zM228,827h3v1h-3zM234,827h3v1h-3zM240,827h3v1h-3zM246,827h3v1h-3zM252,827h3v1h-3zM258,827h3v1h-3zM264,827h3v1h-3zM270,827h3v1h-3zM276,827h3v1h-3zM282,827h3v1h-3zM288,827h3v1h-3zM294,827h3v1h-3zM300,827h3v1h-3zM306,827h3v1h-3zM312,827h3v1h-3zM318,827h3v1h-3zM324,827h3v1h-3zM330,827h3v1h-3zM336,827h3v1h-3zM342,827h3v1h-3zM348,827h3v1h-3zM354,827h3v1h-3zM360,827h3v1h-3zM366,827h3v1h-3zM372,827h3v1h-3zM378,827h3v1h-3zM384,827h3v1h-3zM390,827h3v1h-3zM396,827h3v1h-3zM402,827h3v1h-3zM408,827h3v1h-3zM414,827h3v1h-3zM420,827h3v1h-3zM426,827h3v1h-3zM432,827h3v1h-3zM438,827h3v1h-3zM444,827h3v1h-3zM450,827h3v1h-3zM456,827h3v1h-3zM462,827h3v1h-3zM468,827h3v1h-3zM474,827h3v1h-3zM480,827h3v1h-3zM486,827h3v1h-3zM492,827h3v1h-3zM498,827h3v1h-3zM504,827h3v1h-3zM510,827h3v1h-3zM516,827h3v1h-3zM522,827h3v1h-3zM528,827h3v1h-3zM534,827h3v1h-3zM540,827h3v1h-3zM546,827h3v1h-3zM552,827h3v1h-3zM558,827h3v1h-3zM564,827h3v1h-3zM570,827h3v1h-3zM576,827h3v1h-3zM582,827h3v1h-3zM588,827h3v1h-3zM594,827h3v1h-3zM600,827h3v1h-3zM606,827h3v1h-3zM612,827h3v1h-3zM618,827h3v1h-3zM624,827h3v1h-3zM630,827h3v1h-3zM636,827h3v1h-3zM642,827h3v1h-3zM648,827h3v1h-3zM654,827h3v1h-3zM660,827h3v1h-3zM666,827h3v1h-3zM672,827h3v1h-3zM678,827h3v1h-3zM684,827h3v1h-3zM690,827h3v1h-3zM696,827h3v1h-3zM702,827h3v1h-3zM708,827h3v1h-3zM714,827h3v1h-3zM720,827h3v1h-3zM726,827h3v1h-3zM732,827h3v1h-3zM738,827h3v1h-3zM744,827h3v1h-3zM750,827h3v1h-3zM756,827h3v1h-3zM762,827h3v1h-3zM768,827h3v1h-3zM774,827h3v1h-3zM780,827h3v1h-3zM786,827h3v1h-3zM792,827h3v1h-3zM798,827h3v1h-3zM804,827h3v1h-3zM810,827h3v1h-3zM816,827h3v1h-3zM822,827h3v1h-3zM828,827h3v1h-3zM834,827h3v1h-3zM840,827h3v1h-3zM846,827h3v1h-3zM852,827h3v1h-3zM858,827h3v1h-3zM864,827h3v1h-3zM870,827h3v1h-3zM876,827h3v1h-3zM882,827h3v1h-3zM888,827h3v1h-3zM894,827h3v1h-3zM900,827h3v1h-3zM906,827h3v1h-3zM912,827h3v1h-3zM918,827h3v1h-3zM924,827h3v1h-3zM930,827h3v1h-3zM936,827h3v1h-3zM942,827h3v1h-3zM948,827h3v1h-3zM954,827h3v1h-3zM960,827h3v1h-3zM966,827h3v1h-3zM972,827h3v1h-3zM978,827h3v1h-3zM984,827h3v1h-3zM990,827h3v1h-3zM996,827h3v1h-3zM1002,827h3v1h-3zM1008,827h3v1h-3zM1014,827h3v1h-3zM1020,827h3v1h-3zM1026,827h3v1h-3zM1032,827h3v1h-3zM1038,827h3v1h-3zM1044,827h3v1h-3zM1050,827h3v1h-3zM1056,827h3v1h-3zM1062,827h3v1h-3zM1068,827h3v1h-3zM1074,827h3v1h-3zM1080,827h3v1h-3zM1086,827h3v1h-3zM1092,827h3v1h-3zM1098,827h3v1h-3zM1104,827h3v1h-3zM1110,827h3v1h-3zM1116,827h3v1h-3zM1122,827h3v1h-3zM1128,827h3v1h-3zM1134,827h3v1h-3zM1140,827h3v1h-3zM1146,827h3v1h-3zM1152,827h3v1h-3zM1158,827h3v1h-3zM1164,827h3v1h-3zM1170,827h3v1h-3zM1176,827h3v1h-3zM1182,827h3v1h-3zM1188,827h3v1h-3zM1194,827h3v1h-3zM1200,827h3v1h-3zM1206,827h3v1h-3zM1212,827h3v1h-3zM1218,827h3v1h-3zM1224,827h3v1h-3zM1230,827h3v1h-3zM1236,827h3v1h-3zM1242,827h3v1h-3zM1248,827h3v1h-3zM1254,827h3v1h-3zM1260,827h3v1h-3zM1266,827h3v1h-3zM1272,827h3v1h-3zM1278,827h3v1h-3zM1284,827h3v1h-3zM1290,827h3v1h-3zM1296,827h3v1h-3zM1302,827h3v1h-3zM1308,827h3v1h-3zM1314,827h3v1h-3zM1320,827h3v1h-3zM1326,827h3v1h-3zM1332,827h3v1h-3zM1338,827h3v1h-3zM1344,827h3v1h-3zM1350,827h3v1h-3zM1356,827h3v1h-3zM1362,827h3v1h-3zM1368,827h3v1h-3zM1374,827h3v1h-3zM1380,827h3v1h-3zM1386,827h3v1h-3zM1392,827h3v1h-3zM1398,827h3v1h-3zM1404,827h3v1h-3zM1410,827h3v1h-3zM1416,827h3v1h-3zM1422,827h3v1h-3zM1428,827h3v1h-3zM1434,827h3v1h-3zM1440,827h3v1h-3zM1446,827h3v1h-3zM1452,827h3v1h-3zM1458,827h3v1h-3zM1464,827h3v1h-3zM1470,827h3v1h-3zM1476,827h3v1h-3zM1482,827h3v1h-3zM1488,827h3v1h-3zM1494,827h3v1h-3zM1500,827h3v1h-3zM1506,827h3v1h-3zM1512,827h3v1h-3zM1518,827h3v1h-3zM1524,827h3v1h-3zM1530,827h3v1h-3zM1536,827h3v1h-3zM1542,827h3v1h-3zM1548,827h3v1h-3zM1554,827h3v1h-3zM1560,827h3v1h-3zM1566,827h3v1h-3zM1572,827h3v1h-3zM1578,827h3v1h-3zM1584,827h3v1h-3zM1590,827h3v1h-3zM1596,827h3v1h-3zM1602,827h3v1h-3zM1608,827h3v1h-3zM1614,827h3v1h-3zM1620,827h3v1h-3zM1626,827h3v1h-3zM1632,827h3v1h-3zM1638,827h3v1h-3zM1644,827h3v1h-3zM1650,827h3v1h-3zM1656,827h3v1h-3zM1662,827h3v1h-3zM1668,827h3v1h-3zM1674,827h3v1h-3zM1680,827h3v1h-3zM1686,827h3v1h-3z"/>
<path fill="#1e90ff" d="M5,772h1v1h-1zM6,773h1v1h-1zM7,774h1v2h-1zM8,776h1v2h-1zM9,778h1v1h-1zM10,779h1v2h-1zM11,781h1v1h-1zM12,782h1v2h-1zM13,784h9v1h-9zM22,785h1v3h-1zM23,788h1v2h-1zM24,790h1v2h-1zM25,792h1v3h-1zM26,795h1v2h-1zM27,797h1v3h-1zM28,800h1v2h-1zM29,802h1v2h-1zM30,804h2v1h-2zM32,805h2v1h-2zM34,806h2v1h-2zM36,807h1v1h-1zM37,807h1v2h-1zM38,807h2v1h-2zM40,806h2v1h-2zM42,805h3v1h-3zM45,804h3v1h-3zM48,805h2v1h-2zM50,806h3v1h-3zM53,807h3v1h-3zM56,806h7v1h-7zM63,807h1v2h-1zM64,809h1v1h-1zM65,810h1v1h-1zM66,811h1v2h-1zM67,813h1v1h-1zM68,814h1v1h-1zM69,815h1v2h-1zM70,815h1v1h-1zM71,813h1v2h-1zM72,812h1v1h-1zM73,810h1v2h-1zM74,809h1v1h-1zM75,808h1v1h-1zM76,806h1v2h-1zM77,804h1v2h-1zM78,804h8v1h-8zM86,805h2v1h-2zM88,806h2v1h-2zM90,807h1v1h-1zM91,808h2v1h-2zM93,809h2v1h-2zM95,808h2v1h-2zM97,807h1v1h-1zM98,806h2v1h-2zM100,805h1v1h-1zM101,804h1v2h-1zM102,805h7v1h-7zM109,805h1v2h-1zM110,804h1v2h-1zM111,802h1v2h-1zM112,801h1v1h-1zM113,799h1v2h-1zM114,798h1v1h-1zM115,796h1v2h-1zM116,794h1v2h-1zM117,792h1v2h-1zM118,794h1v3h-1zM119,797h1v3h-1zM120,800h1v3h-1zM121,803h1v3h-1zM122,806h1v3h-1zM123,809h1v3h-1zM124,812h1v2h-1zM125,814h1v3h-1zM126,813h1v3h-1zM127,811h1v2h-1zM128,808h1v3h-1zM129,806h1v2h-1zM130,803h1v3h-1zM131,801h1v2h-1zM132,798h1v3h-1zM133,796h1v2h-1zM134,796h4v1h-4zM138,797h16v1h-16zM154,796h15v1h-15zM169,797h4v1h-4zM173,797h1v2h-1zM174,798h2v1h-2zM176,799h2v1h-2zM178,800h1v1h-1zM179,801h2v1h-2zM181,802h1v1h-1zM182,801h1v1h-1zM183,800h1v1h-1zM184,798h1v2h-1zM185,797h1v1h-1zM186,796h1v1h-1zM187,794h1v2h-1zM188,793h1v1h-1zM189,791h1v2h-1zM190,791h1v1h-1zM191,790h2v1h-2zM193,789h1v1h-1zM194,788h1v1h-1zM195,787h2v1h-2zM197,786h1v1h-1zM198,785h2v1h-2zM200,784h2v1h-2zM202,783h3v1h-3zM205,782h3v1h-3zM208,783h4v1h-4zM212,784h4v1h-4zM216,783h5v1h-5zM221,782h1v2h-1zM222,783h6v1h-6zM228,784h4v1h-4zM232,783h5v1h-5zM237,782h1v2h-1zM238,783h1v2h-1zM239,785h1v1h-1zM240,786h1v2h-1zM241,788h1v2h-1zM242,790h1v1h-1zM243,791h1v2h-1zM244,793h1v1h-1zM245,794h1v2h-1zM246,796h2v1h-2zM248,797h1v1h-1zM249,798h1v1h-1zM250,799h1v1h-1zM251,800h1v1h-1zM252,801h1v1h-1zM253,802h1v1h-1zM254,803h1v1h-1zM255,804h1v1h-1zM256,805h1v2h-1zM257,807h1v1h-1zM258,808h1v1h-1zM259,809h1v1h-1zM260,810h1v2h-1zM261,812h1v1h-1zM262,811h1v1h-1zM263,809h1v2h-1zM264,808h1v1h-1zM265,806h1v2h-1zM266,804h1v2h-1zM267,803h1v1h-1zM268,801h1v2h-1zM269,800h1v1h-1zM270,799h2v1h-2zM272,798h2v1h-2zM274,797h3v1h-3zM277,796h3v1h-3zM280,797h2v1h-2zM282,798h3v1h-3zM285,799h2v1h-2zM287,798h1v1h-1zM288,797h2v1h-2zM290,796h1v1h-1zM291,795h2v1h-2zM293,794h2v1h-2zM295,795h2v1h-2zM297,796h2v1h-2zM299,797h1v1h-1zM300,798h2v1h-2zM302,799h1v1h-1zM303,800h1v1h-1zM304,801h1v1h-1zM305,802h1v1h-1zM306,803h1v1h-1zM307,804h1v1h-1zM308,805h1v1h-1zM309,806h1v2h-1zM310,806h1v1h-1zM311,804h1v2h-1zM312,803h1v1h-1zM313,801h1v2h-1zM314,800h1v1h-1zM315,798h1v2h-1zM316,797h1v1h-1zM317,795h1v2h-1zM318,795h9v1h-9zM327,796h2v1h-2zM329,797h1v1h-1zM330,798h2v1h-2zM332,799h1v1h-1zM333,799h1v2h-1zM334,800h2v1h-2zM336,801h2v1h-2zM338,802h3v1h-3zM341,803h2v1h-2zM343,804h2v1h-2zM345,805h2v1h-2zM347,806h2v1h-2zM349,807h1v1h-1zM350,806h2v1h-2zM352,805h1v1h-1zM353,804h1v1h-1zM354,803h1v1h-1zM355,802h1v1h-1zM356,801h1v1h-1zM357,800h1v2h-1zM358,798h1v2h-1zM359,796h1v2h-1zM360,794h1v2h-1zM361,792h1v2h-1zM362,790h1v2h-1zM363,788h1v2h-1zM364,786h1v2h-1zM365,784h1v2h-1zM366,784h1v1h-1zM367,785h1v1h-1zM368,786h1v1h-1zM369,787h2v1h-2zM371,788h1v1h-1zM372,789h1v1h-1zM373,790h11v1h-11zM384,791h4v1h-4zM388,792h5v1h-5zM393,791h5v1h-5zM398,792h1v1h-1zM399,793h1v1h-1zM400,794h1v1h-1zM401,795h1v1h-1zM402,796h1v2h-1zM403,798h1v1h-1zM404,799h1v1h-1zM405,800h1v1h-1zM406,798h1v2h-1zM407,796h1v2h-1zM408,793h1v3h-1zM409,791h1v2h-1zM410,789h1v2h-1zM411,786h1v3h-1zM412,784h1v2h-1zM413,782h1v2h-1zM414,782h4v1h-4zM418,783h16v1h-16zM434,782h5v1h-5zM439,781h1v1h-1zM440,780h1v1h-1zM441,779h2v1h-2zM443,778h1v1h-1zM444,777h1v1h-1zM445,776h1v2h-1zM446,774h1v2h-1zM447,772h1v2h-1zM448,770h1v2h-1zM449,767h1v3h-1zM450,765h1v2h-1zM451,763h1v2h-1zM452,761h1v2h-1zM453,759h2v2h-2zM455,761h1v1h-1zM456,762h1v1h-1zM457,763h1v1h-1zM458,764h1v2h-1zM459,766h1v1h-1zM460,767h1v1h-1zM461,768h1v2h-1zM462,770h1v1h-1zM463,771h1v1h-1zM464,772h1v2h-1zM465,774h1v1h-1zM466,775h1v2h-1zM467,777h1v1h-1zM468,778h1v2h-1zM469,780h6v1h-6zM475,779h6v1h-6zM481,780h5v1h-5zM486,781h6v1h-6zM492,782h11v1h-11zM503,781h1v1h-1zM504,780h2v1h-2zM506,779h1v1h-1zM507,778h2v1h-2zM509,777h2v1h-2zM511,778h1v1h-1zM512,779h1v1h-1zM513,780h1v1h-1zM514,781h1v1h-1zM515,782h1v1h-1zM516,783h1v1h-1zM517,784h1v1h-1zM518,785h3v1h-3zM521,786h3v1h-3zM524,787h3v1h-3zM527,788h3v1h-3zM530,789h2v1h-2zM532,790h4v1h-4zM536,789h2v1h-2zM538,788h3v1h-3zM541,787h1v1h-1zM542,788h1v1h-1zM543,789h1v1h-1zM544,790h1v2h-1zM545,792h1v1h-1zM546,793h1v1h-1zM547,794h1v2h-1zM548,796h1v1h-1zM549,797h1v2h-1zM550,798h2v1h-2zM552,799h3v1h-3zM555,800h2v1h-2zM557,801h2v1h-2zM559,800h2v1h-2zM561,799h2v1h-2zM563,798h2v1h-2zM565,797h11v1h-11zM576,796h6v1h-6zM582,795h3v1h-3zM585,794h2v1h-2zM587,793h2v1h-2zM589,792h1v2h-1zM590,792h5v1h-5zM595,791h5v1h-5zM600,792h2v1h-2zM602,793h3v1h-3zM605,794h1v1h-1zM606,793h2v1h-2zM608,792h1v1h-1zM609,791h1v1h-1zM610,790h1v1h-1zM611,789h1v1h-1zM612,788h1v1h-1zM613,787h3v1h-3zM616,788h4v1h-4zM620,789h4v1h-4zM624,790h4v1h-4zM628,791h2v1h-2zM630,790h2v1h-2zM632,789h1v1h-1zM633,788h1v1h-1zM634,787h1v1h-1zM635,786h1v1h-1zM636,785h1v1h-1zM637,784h2v1h-2zM639,783h2v1h-2zM641,782h3v1h-3zM644,781h1v1h-1zM645,780h1v2h-1zM646,780h2v1h-2zM648,779h2v1h-2zM650,778h3v1h-3zM653,777h1v1h-1zM654,777h1v2h-1zM655,779h1v1h-1zM656,780h1v1h-1zM657,781h1v1h-1zM658,782h1v1h-1zM659,783h1v1h-1zM660,784h1v1h-1zM661,785h1v2h-1zM662,787h1v3h-1zM663,790h1v2h-1zM664,792h1v3h-1zM665,795h1v3h-1zM666,798h1v2h-1zM667,800h1v3h-1zM668,803h1v3h-1zM669,806h1v2h-1zM670,807h2v1h-2zM672,806h6v1h-6zM678,805h1v1h-1zM679,804h1v1h-1zM680,803h1v1h-1zM681,802h2v1h-2zM683,801h1v1h-1zM684,800h1v1h-1zM685,798h1v2h-1zM686,798h2v1h-2zM688,797h2v1h-2zM690,796h2v1h-2zM692,795h1v1h-1zM693,794h1v2h-1zM694,794h2v1h-2zM696,793h1v1h-1zM697,792h2v1h-2zM699,791h1v1h-1zM700,790h1v1h-1zM701,789h1v2h-1zM702,789h9v1h-9zM711,788h2v1h-2zM713,787h2v1h-2zM715,786h2v1h-2zM717,785h13v1h-13zM730,784h7v1h-7zM737,785h4v1h-4zM741,785h1v2h-1zM742,785h5v1h-5zM747,784h3v1h-3zM750,785h1v1h-1zM751,786h1v1h-1zM752,787h1v2h-1zM753,789h1v1h-1zM754,790h1v1h-1zM755,791h1v2h-1zM756,793h1v1h-1zM757,794h1v1h-1zM758,795h6v1h-6zM764,796h7v1h-7zM771,797h5v1h-5zM776,796h4v1h-4zM780,795h2v1h-2zM782,796h1v1h-1zM783,797h1v2h-1zM784,799h1v1h-1zM785,800h1v2h-1zM786,802h1v1h-1zM787,803h1v2h-1zM788,805h1v1h-1zM789,806h1v2h-1zM790,806h1v1h-1zM791,805h1v1h-1zM792,804h1v1h-1zM793,803h1v1h-1zM794,802h1v1h-1zM795,801h1v1h-1zM796,800h1v1h-1zM797,799h2v1h-2zM799,800h3v1h-3zM802,801h2v1h-2zM804,802h6v1h-6zM810,801h5v1h-5zM815,800h2v1h-2zM817,799h3v1h-3zM820,798h2v1h-2zM822,797h2v1h-2zM824,796h2v1h-2zM826,795h2v1h-2zM828,794h1v1h-1zM829,793h1v2h-1zM830,793h5v1h-5zM835,792h4v1h-4zM839,793h3v1h-3zM842,794h2v1h-2zM844,795h1v1h-1zM845,795h1v2h-1zM846,796h1v2h-1zM847,798h1v2h-1zM848,800h1v1h-1zM849,801h1v2h-1zM850,803h1v2h-1zM851,805h1v1h-1zM852,806h1v2h-1zM853,808h1v2h-1zM854,808h1v1h-1zM855,806h1v2h-1zM856,805h1v1h-1zM857,803h1v2h-1zM858,802h1v1h-1zM859,801h1v1h-1zM860,799h1v2h-1zM861,798h1v1h-1zM862,796h1v2h-1zM863,795h1v1h-1zM864,793h1v2h-1zM865,792h1v1h-1zM866,790h1v2h-1zM867,789h1v1h-1zM868,787h1v2h-1zM869,786h7v1h-7zM876,787h3v1h-3zM879,788h3v1h-3zM882,789h2v1h-2zM884,790h3v1h-3zM887,789h1v1h-1zM888,788h1v1h-1zM889,787h1v1h-1zM890,786h1v1h-1zM891,785h1v1h-1zM892,784h1v1h-1zM893,783h1v2h-1zM894,784h2v1h-2zM896,785h1v1h-1zM897,786h1v1h-1zM898,787h1v1h-1zM899,788h1v1h-1zM900,789h1v1h-1zM901,790h3v1h-3zM904,789h2v1h-2zM906,788h3v1h-3zM909,787h2v1h-2zM911,788h1v1h-1zM912,789h1v1h-1zM913,790h1v1h-1zM914,791h1v1h-1zM915,792h1v1h-1zM916,793h1v1h-1zM917,794h1v1h-1zM918,795h2v1h-2zM920,796h1v1h-1zM921,797h2v1h-2zM923,798h1v1h-1zM924,799h1v1h-1zM925,799h1v2h-1zM926,799h1v1h-1zM927,798h2v1h-2zM929,797h1v1h-1zM930,796h2v1h-2zM932,795h1v1h-1zM933,794h5v1h-5zM938,795h8v1h-8zM946,796h4v1h-4zM950,795h1v1h-1zM951,794h1v1h-1zM952,792h1v2h-1zM953,791h1v1h-1zM954,789h1v2h-1zM955,788h1v1h-1zM956,787h1v1h-1zM957,785h1v2h-1zM958,786h2v1h-2zM960,787h1v1h-1zM961,788h1v1h-1zM962,789h1v1h-1zM963,790h1v1h-1zM964,791h1v1h-1zM965,791h1v2h-1zM966,792h2v1h-2zM968,793h2v1h-2zM970,794h3v1h-3zM973,795h2v1h-2zM975,796h2v1h-2zM977,797h1v1h-1zM978,798h2v1h-2zM980,799h1v1h-1zM981,799h1v2h-1zM982,799h9v1h-9zM991,800h1v1h-1zM992,801h2v1h-2zM994,802h1v1h-1zM995,803h2v1h-2zM997,804h1v1h-1zM998,805h2v1h-2zM1000,806h2v1h-2zM1002,807h2v1h-2zM1004,808h1v1h-1zM1005,809h2v1h-2zM1007,808h1v1h-1zM1008,807h2v1h-2zM1010,806h1v1h-1zM1011,805h2v1h-2zM1013,804h3v1h-3zM1016,805h4v1h-4zM1020,806h2v1h-2zM1022,805h1v1h-1zM1023,804h1v1h-1zM1024,803h1v1h-1zM1025,802h1v1h-1zM1026,801h1v1h-1zM1027,800h1v1h-1zM1028,799h1v1h-1zM1029,797h1v2h-1zM1030,798h1v1h-1zM1031,799h1v1h-1zM1032,800h1v1h-1zM1033,801h1v1h-1zM1034,802h1v1h-1zM1035,803h1v1h-1zM1036,804h1v1h-1zM1037,805h1v2h-1zM1038,807h1v2h-1zM1039,809h1v2h-1zM1040,811h1v2h-1zM1041,813h1v2h-1zM1042,815h1v2h-1zM1043,817h1v1h-1zM1044,818h1v2h-1zM1045,820h1v2h-1zM1046,822h1v1h-1zM1047,823h1v2h-1zM1048,825h1v1h-1zM1049,826h1v1h-1zM1050,827h1v1h-1zM1051,828h1v2h-1zM1052,830h1v1h-1zM1053,831h1v2h-1zM1054,829h1v2h-1zM1055,826h1v3h-1zM1056,823h1v3h-1zM1057,821h1v2h-1zM1058,818h1v3h-1zM1059,815h1v3h-1zM1060,813h1v2h-1zM1061,810h1v3h-1zM1062,810h8v1h-8zM1070,809h2v1h-2zM1072,808h2v1h-2zM1074,807h3v1h-3zM1077,806h4v1h-4zM1081,807h4v1h-4zM1085,807h1v2h-1zM1086,807h1v1h-1zM1087,806h1v1h-1zM1088,805h1v1h-1zM1089,804h1v1h-1zM1090,803h1v1h-1zM1091,802h1v1h-1zM1092,800h1v2h-1zM1093,799h2v1h-2zM1095,798h1v1h-1zM1096,797h2v1h-2zM1098,796h1v1h-1zM1099,795h2v1h-2zM1101,794h3v1h-3zM1104,793h4v1h-4zM1108,792h4v1h-4zM1112,791h2v1h-2zM1114,790h3v1h-3zM1117,789h10v1h-10zM1127,788h1v1h-1zM1128,787h1v1h-1zM1129,786h2v1h-2zM1131,785h1v1h-1zM1132,784h1v1h-1zM1133,783h2v1h-2zM1135,784h4v1h-4zM1139,785h2v1h-2zM1141,785h1v2h-1zM1142,785h1v1h-1zM1143,783h1v2h-1zM1144,782h1v1h-1zM1145,781h1v1h-1zM1146,780h1v1h-1zM1147,778h1v2h-1zM1148,777h1v1h-1zM1149,776h1v1h-1zM1150,775h1v1h-1zM1151,774h2v1h-2zM1153,773h1v1h-1zM1154,772h2v1h-2zM1156,771h1v1h-1zM1157,770h6v1h-6zM1163,771h3v1h-3zM1166,770h1v1h-1zM1167,769h1v1h-1zM1168,768h1v1h-1zM1169,767h1v1h-1zM1170,766h1v1h-1zM1171,765h1v1h-1zM1172,764h1v1h-1zM1173,762h1v2h-1zM1174,762h8v1h-8zM1182,763h1v1h-1zM1183,764h1v1h-1zM1184,765h1v1h-1zM1185,766h1v2h-1zM1186,768h1v1h-1zM1187,769h1v1h-1zM1188,770h1v1h-1zM1189,771h1v2h-1zM1190,772h1v1h-1zM1191,771h5v1h-5zM1196,770h3v1h-3zM1199,771h2v1h-2zM1201,772h1v1h-1zM1202,773h2v1h-2zM1204,774h5v1h-5zM1209,773h3v1h-3zM1212,772h4v1h-4zM1216,773h3v1h-3zM1219,774h9v1h-9zM1228,773h2v1h-2zM1230,774h1v2h-1zM1231,776h1v2h-1zM1232,778h1v1h-1zM1233,779h1v2h-1zM1234,781h1v2h-1zM1235,783h1v2h-1zM1236,785h1v2h-1zM1237,787h1v2h-1zM1238,788h2v1h-2zM1240,789h2v1h-2zM1242,790h2v1h-2zM1244,791h2v1h-2zM1246,792h2v1h-2zM1248,793h1v1h-1zM1249,794h2v1h-2zM1251,795h1v1h-1zM1252,796h1v1h-1zM1253,797h4v1h-4zM1257,796h14v1h-14zM1271,797h1v1h-1zM1272,798h2v1h-2zM1274,799h1v1h-1zM1275,800h2v1h-2zM1277,801h3v1h-3zM1280,800h2v1h-2zM1282,799h2v1h-2zM1284,798h2v1h-2zM1286,797h1v1h-1zM1287,796h2v1h-2zM1289,795h1v1h-1zM1290,794h2v1h-2zM1292,793h1v1h-1zM1293,792h2v1h-2zM1295,791h2v1h-2zM1297,790h1v1h-1zM1298,789h2v1h-2zM1300,788h10v1h-10zM1310,787h3v1h-3zM1313,786h2v1h-2zM1315,785h2v1h-2zM1317,784h1v2h-1zM1318,784h2v1h-2zM1320,783h2v1h-2zM1322,782h2v1h-2zM1324,781h1v1h-1zM1325,780h1v2h-1zM1326,780h1v1h-1zM1327,779h1v1h-1zM1328,778h1v1h-1zM1329,777h1v1h-1zM1330,776h1v1h-1zM1331,775h1v1h-1zM1332,774h1v1h-1zM1333,772h1v2h-1zM1334,773h4v1h-4zM1338,774h3v1h-3zM1341,774h1v2h-1zM1342,776h1v2h-1zM1343,778h1v3h-1zM1344,781h1v2h-1zM1345,783h1v3h-1zM1346,786h1v2h-1zM1347,788h1v3h-1zM1348,791h1v2h-1zM1349,793h1v2h-1zM1350,795h1v1h-1zM1351,796h1v1h-1zM1352,797h1v2h-1zM1353,799h1v1h-1zM1354,800h1v1h-1zM1355,801h1v1h-1zM1356,802h1v1h-1zM1357,803h1v2h-1zM1358,804h2v1h-2zM1360,803h5v1h-5zM1365,802h1v2h-1zM1366,802h1v1h-1zM1367,801h2v1h-2zM1369,800h1v1h-1zM1370,799h2v1h-2zM1372,798h1v1h-1zM1373,797h2v1h-2zM1375,796h2v1h-2zM1377,795h2v1h-2zM1379,794h1v1h-1zM1380,793h1v1h-1zM1381,792h1v2h-1zM1382,792h8v1h-8zM1390,793h6v1h-6zM1396,794h3v1h-3zM1399,795h3v1h-3zM1402,796h2v1h-2zM1404,797h1v1h-1zM1405,797h1v2h-1zM1406,797h4v1h-4zM1410,796h4v1h-4zM1414,795h1v1h-1zM1415,794h2v1h-2zM1417,793h1v1h-1zM1418,792h1v1h-1zM1419,791h2v1h-2zM1421,790h7v1h-7zM1428,791h9v1h-9zM1437,791h1v2h-1zM1438,793h1v5h-1zM1439,798h1v5h-1zM1440,803h1v4h-1zM1441,807h1v5h-1zM1442,812h1v5h-1zM1443,817h1v4h-1zM1444,821h1v5h-1zM1445,826h1v3h-1zM1446,829h3v1h-3zM1449,830h4v1h-4zM1453,831h11v1h-11zM1464,830h4v1h-4zM1468,829h3v1h-3zM1471,830h1v1h-1zM1472,831h2v1h-2zM1474,832h1v1h-1zM1475,833h2v1h-2zM1477,834h1v1h-1zM1478,835h1v1h-1zM1479,836h2v1h-2zM1481,837h1v1h-1zM1482,838h1v1h-1zM1483,839h2v1h-2zM1485,840h3v1h-3zM1488,839h2v1h-2zM1490,838h2v1h-2zM1492,837h1v1h-1zM1493,836h1v2h-1zM1494,835h1v2h-1zM1495,834h1v1h-1zM1496,833h1v1h-1zM1497,831h1v2h-1zM1498,830h1v1h-1zM1499,828h1v2h-1zM1500,827h1v1h-1zM1501,825h1v2h-1zM1502,825h4v1h-4zM1506,824h5v1h-5zM1511,825h1v1h-1zM1512,826h2v1h-2zM1514,827h1v1h-1zM1515,828h2v1h-2zM1517,829h1v2h-1zM1518,827h1v2h-1zM1519,825h1v2h-1zM1520,823h1v2h-1zM1521,821h1v2h-1zM1522,818h1v3h-1zM1523,816h1v2h-1zM1524,814h1v2h-1zM1525,812h1v2h-1zM1526,812h1v1h-1zM1527,811h4v1h-4zM1531,810h3v1h-3zM1534,811h1v3h-1zM1535,814h1v2h-1zM1536,816h1v3h-1zM1537,819h1v3h-1zM1538,822h1v2h-1zM1539,824h1v3h-1zM1540,827h1v3h-1zM1541,830h1v2h-1zM1542,831h2v1h-2zM1544,832h2v1h-2zM1546,833h3v1h-3zM1549,834h4v1h-4zM1553,835h6v1h-6zM1559,836h1v1h-1zM1560,837h2v1h-2zM1562,838h2v1h-2zM1564,839h1v1h-1zM1565,839h1v2h-1zM1566,838h1v2h-1zM1567,836h1v2h-1zM1568,834h1v2h-1zM1569,832h1v2h-1zM1570,830h1v2h-1zM1571,828h1v2h-1zM1572,826h1v2h-1zM1573,824h1v2h-1zM1574,825h3v1h-3zM1577,826h4v1h-4zM1581,827h8v1h-8zM1589,827h1v2h-1zM1590,827h5v1h-5zM1595,826h14v1h-14zM1609,827h4v1h-4zM1613,827h1v2h-1zM1614,828h4v1h-4zM1618,829h3v1h-3zM1621,829h1v2h-1zM1622,830h1v2h-1zM1623,832h1v1h-1zM1624,833h1v2h-1zM1625,835h1v2h-1zM1626,837h1v1h-1zM1627,838h1v2h-1zM1628,840h1v1h-1zM1629,841h1v2h-1zM1630,842h1v1h-1zM1631,843h1v1h-1zM1632,844h2v1h-2zM1634,845h1v1h-1zM1635,846h2v1h-2zM1637,847h2v1h-2zM1639,846h1v1h-1zM1640,845h1v1h-1zM1641,844h1v1h-1zM1642,843h1v1h-1zM1643,842h1v1h-1zM1644,841h1v1h-1zM1645,840h6v1h-6zM1651,841h18v1h-18z"/>
</g>
<g id="axis" shape-rendering="auto" stroke-width="0.1">
<rect x="1691" y="50" width="2" height="1" fill="#000"/>
<text x="1696" y="53.5" font-size="9.7" fill="#000" stroke="#000" text-anchor="start"  textLength="27.98" lengthAdjust="spacingAndGlyphs">46.615</text>
<rect x="1691" y="83" width="2" height="1" fill="#000"/>
<text x="1696" y="86.5" font-size="9.7" fill="#000" stroke="#000" text-anchor="start"  textLength="27.98" lengthAdjust="spacingAndGlyphs">46.120</text>
<rect x="1691" y="116" width="2" height="1" fill="#000"/>
<text x="1696" y="119.5" font-size="9.7" fill="#000" stroke="#000" text-anchor="start"  textLength="27.98" lengthAdjust="spacingAndGlyphs">45.625</text>
<rect x="1691" y="149" width="2" height="1" fill="#000"/>
<text x="1696" y="152.5" font-size="9.7" fill="#000" stroke="#000" text-anchor="start"  textLength="27.98" lengthAdjust="spacingAndGlyphs">45.115</text>
<rect x="1691" y="182" width="2" height="1" fill="#000"/>
<text x="1696" y="185.5" font-size="9.7" fill="#000" stroke="#000" text-anchor="start"  textLength="27.98" lengthAdjust="spacingAndGlyphs">44.620</text>
<rect x="1691" y="215" width="2" height="1" fill="#000"/>
<text x="1696" y="218.5" font-size="9.7" fill="#000" stroke="#000" text-anchor="start"  textLength="27.98" lengthAdjust="spacingAndGlyphs">44.125</text>
<rect x="1691" y="248" width="2" height="1" fill="#000"/>
<text x="1696" y="251.5" font-size="9.7" fill="#000" stroke="#000" text-anchor="start"  textLength="27.98" lengthAdjust="spacingAndGlyphs">43.630</text>
<rect x="1691" y="281" width="2" height="1" fill="#000"/>
<text x="1696" y="284.5" font-size="9.7" fill="#000" stroke="#000" text-anchor="start"  textLength="27.98" lengthAdjust="spacingAndGlyphs">43.120</text>
<rect x="1691" y="314" width="2" height="1" fill="#000"/>
<text x="1696" y="317.5" font-size="9.7" fill="#000" stroke="#000" text-anchor="start"  textLength="27.98" lengthAdjust="spacingAndGlyphs">42.625</text>
<rect x="1691" y="347" width="2" height="1" fill="#000"/>
<text x="1696" y="350.5" font-size="9.7" fill="#000" stroke="#000" text-anchor="start"  textLength="27.98" lengthAdjust="spacingAndGlyphs">42.130</text>
<rect x="1691" y="380" width="2" height="1" fill="#000"/>
<text x="1696" y="383.5" font-size="9.7" fill="#000" stroke="#000" text-anchor="start"  textLength="27.98" lengthAdjust="spacingAndGlyphs">41.635</text>
<rect x="1691" y="413" width="2" height="1" fill="#000"/>
<text x="1696" y="416.5" font-size="9.7" fill="#000" stroke="#000" text-anchor="start"  textLength="27.98" lengthAdjust="spacingAndGlyphs">41.125</text>
<rect x="1691" y="446" width="2" height="1" fill="#000"/>
<text x="1696" y="449.5" font-size="9.7" fill="#000" stroke="#000" text-anchor="start"  textLength="27.98" lengthAdjust="spacingAndGlyphs">40.630</text>
<rect x="1691" y="479" width="2" height="1" fill="#000"/>
<text x="1696" y="482.5" font-size="9.7" fill="#000" stroke="#000" text-anchor="start"  textLength="27.98" lengthAdjust="spacingAndGlyphs">40.135</text>
<rect x="1691" y="512" width="2" height="1" fill="#000"/>
<text x="1696" y="515.5" font-size="9.7" fill="#000" stroke="#000" text-anchor="start"  textLength="27.98" lengthAdjust="spacingAndGlyphs">39.640</text>
<rect x="1691" y="545" width="2" height="1" fill="#000"/>
<text x="1696" y="548.5" font-size="9.7" fill="#000" stroke="#000" text-anchor="start"  textLength="27.98" lengthAdjust="spacingAndGlyphs">39.145</text>
<rect x="1692" y="52" width="33" height="11" fill="#ff0000"/>
<text x="1696" y="61" font-size="9.7" fill="#fff" stroke="#fff" text-anchor="start"  textLength="27.98" lengthAdjust="spacingAndGlyphs">46.500</text>
<rect x="1692" y="184" width="33" height="11" fill="#ff0000"/>
<text x="1696" y="193" font-size="9.7" fill="#fff" stroke="#fff" text-anchor="start"  textLength="27.98" lengthAdjust="spacingAndGlyphs">44.500</text>
<rect x="1692" y="316" width="33" height="11" fill="#ff0000"/>
<text x="1696" y="325" font-size="9.7" fill="#fff" stroke="#fff" text-anchor="start"  textLength="27.98" lengthAdjust="spacingAndGlyphs">42.500</text>
<rect x="1692" y="482" width="33" height="11" fill="#32cd32"/>
<text x="1696" y="491" font-size="9.7" fill="#fff" stroke="#fff" text-anchor="start"  textLength="27.98" lengthAdjust="spacingAndGlyphs">40.000</text>
<rect x="1692" y="504" width="33" height="11" fill="#000"/>
<text x="1696" y="513" font-size="9.7" fill="#fff" stroke="#fff" text-anchor="start"  textLength="27.98" lengthAdjust="spacingAndGlyphs">39.680</text>
<rect x="1691" y="552" width="1" height="1" fill="#000"/>
<text x="1694" y="560.6" font-size="9.7" fill="#000" stroke="#000" text-anchor="start"  textLength="22.89" lengthAdjust="spacingAndGlyphs">0.562</text>
<rect x="1691" y="601" width="1" height="1" fill="#000"/>
<text x="1694" y="604.8" font-size="9.7" fill="#000" stroke="#000" text-anchor="start"  textLength="17.81" lengthAdjust="spacingAndGlyphs">0.00</text>
<rect x="1691" y="716" width="1" height="1" fill="#000"/>
<text x="1693.6" y="713.6" font-size="9.7" fill="#000" stroke="#000" text-anchor="start"  textLength="31.03" lengthAdjust="spacingAndGlyphs">-1.3058</text>
<rect x="1691" y="721" width="1" height="1" fill="#000"/>
<text x="1694" y="729.8" font-size="9.7" fill="#000" stroke="#000" text-anchor="start"  textLength="15.26" lengthAdjust="spacingAndGlyphs">100</text>
<text x="1693.2" y="769.6" font-size="9.7" fill="#000" stroke="#000" text-anchor="start"  textLength="10.17" lengthAdjust="spacingAndGlyphs">70</text>
<text x="1693.2" y="830.6" font-size="9.7" fill="#000" stroke="#000" text-anchor="start"  textLength="10.17" lengthAdjust="spacingAndGlyphs">30</text>
<rect x="1691" y="871" width="1" height="1" fill="#000"/>
<text x="1695.2" y="870" font-size="9.7" fill="#000" stroke="#000" text-anchor="start"  textLength="5.09" lengthAdjust="spacingAndGlyphs">0</text>
<rect x="5" y="874" width="1" height="3" fill="#000"/>
<text x="4.2" y="886.3" font-size="9.7" fill="#000" stroke="#000" text-anchor="start"  textLength="46.8" lengthAdjust="spacingAndGlyphs">23 Jul 2020</text>
<rect x="69" y="874" width="1" height="3" fill="#000"/>
<text x="68.2" y="886.3" font-size="9.7" fill="#000" stroke="#000" text-anchor="start"  textLength="50.4" lengthAdjust="spacingAndGlyphs">24 Jul 12:00</text>
<rect x="133" y="874" width="1" height="3" fill="#000"/>
<text x="132.2" y="886.3" font-size="9.7" fill="#000" stroke="#000" text-anchor="start"  textLength="50.4" lengthAdjust="spacingAndGlyphs">27 Jul 16:00</text>
<rect x="197" y="874" width="1" height="3" fill="#000"/>
<text x="196.2" y="886.3" font-size="9.7" fill="#000" stroke="#000" text-anchor="start"  textLength="50.4" lengthAdjust="spacingAndGlyphs">29 Jul 04:00</text>
<rect x="261" y="874" width="1" height="3" fill="#000"/>
<text x="260.2" y="886.3" font-size="9.7" fill="#000" stroke="#000" text-anchor="start"  textLength="50.4" lengthAdjust="spacingAndGlyphs">30 Jul 12:00</text>
<rect x="325" y="874" width="1" height="3" fill="#000"/>
<text x="324.2" y="886.3" font-size="9.7" fill="#000" stroke="#000" text-anchor="start"  textLength="50.4" lengthAdjust="spacingAndGlyphs">31 Jul 20:00</text>
<rect x="389" y="874" width="1" height="3" fill="#000"/>
<text x="388.2" y="886.3" font-size="9.7" fill="#000" stroke="#000" text-anchor="start"  textLength="51.2" lengthAdjust="spacingAndGlyphs">4 Aug 00:00</text>
<rect x="453" y="874" width="1" height="3" fill="#000"/>
<text x="452.2" y="886.3" font-size="9.7" fill="#000" stroke="#000" text-anchor="start"  textLength="51.2" lengthAdjust="spacingAndGlyphs">5 Aug 08:00</text>
<rect x="517" y="874" width="1" height="3" fill="#000"/>
<text x="516.2" y="886.3" font-size="9.7" fill="#000" stroke="#000" text-anchor="start"  textLength="51.2" lengthAdjust="spacingAndGlyphs">6 Aug 16:00</text>
<rect x="581" y="874" width="1" height="3" fill="#000"/>
<text x="580.2" y="886.3" font-size="9.7" fill="#000" stroke="#000" text-anchor="start"  textLength="51.2" lengthAdjust="spacingAndGlyphs">9 Aug 23:00</text>
<rect x="645" y="874" width="1" height="3" fill="#000"/>
<text x="644.2" y="886.3" font-size="9.7" fill="#000" stroke="#000" text-anchor="start"  textLength="55.9" lengthAdjust="spacingAndGlyphs">11 Aug 04:00</text>
<rect x="709" y="874" width="1" height="3" fill="#000"/>
<text x="708.2" y="886.3" font-size="9.7" fill="#000" stroke="#000" text-anchor="start"  textLength="55.9" lengthAdjust="spacingAndGlyphs">12 Aug 12:00</text>
<rect x="773" y="874" width="1" height="3" fill="#000"/>
<text x="772.2" y="886.3" font-size="9.7" fill="#000" stroke="#000" text-anchor="start"  textLength="55.9" lengthAdjust="spacingAndGlyphs">13 Aug 20:00</text>
<rect x="837" y="874" width="1" height="3" fill="#000"/>
<text x="836.2" y="886.3" font-size="9.7" fill="#000" stroke="#000" text-anchor="start"  textLength="55.9" lengthAdjust="spacingAndGlyphs">17 Aug 00:00</text>
<rect x="901" y="874" width="1" height="3" fill="#000"/>
<text x="900.2" y="886.3" font-size="9.7" fill="#000" stroke="#000" text-anchor="start"  textLength="55.9" lengthAdjust="spacingAndGlyphs">18 Aug 08:00</text>
<rect x="965" y="874" width="1" height="3" fill="#000"/>
<text x="964.2" y="886.3" font-size="9.7" fill="#000" stroke="#000" text-anchor="start"  textLength="55.9" lengthAdjust="spacingAndGlyphs">19 Aug 16:00</text>
<rect x="1029" y="874" width="1" height="3" fill="#000"/>
<text x="1028.2" y="886.3" font-size="9.7" fill="#000" stroke="#000" text-anchor="start"  textLength="55.9" lengthAdjust="spacingAndGlyphs">21 Aug 00:00</text>
<rect x="1093" y="874" width="1" height="3" fill="#000"/>
<text x="1092.2" y="886.3" font-size="9.7" fill="#000" stroke="#000" text-anchor="start"  textLength="55.9" lengthAdjust="spacingAndGlyphs">24 Aug 04:00</text>
<rect x="1157" y="874" width="1" height="3" fill="#000"/>
<text x="1156.2" y="886.3" font-size="9.7" fill="#000" stroke="#000" text-anchor="start"  textLength="55.9" lengthAdjust="spacingAndGlyphs">25 Aug 12:00</text>
<rect x="1221" y="874" width="1" height="3" fill="#000"/>
<text x="1220.2" y="886.3" font-size="9.7" fill="#000" stroke="#000" text-anchor="start"  textLength="55.9" lengthAdjust="spacingAndGlyphs">27 Aug 00:00</text>
<rect x="1285" y="874" width="1" height="3" fill="#000"/>
<text x="1284.2" y="886.3" font-size="9.7" fill="#000" stroke="#000" text-anchor="start"  textLength="55.9" lengthAdjust="spacingAndGlyphs">28 Aug 08:00</text>
<rect x="1349" y="874" width="1" height="3" fill="#000"/>
<text x="1348.2" y="886.3" font-size="9.7" fill="#000" stroke="#000" text-anchor="start"  textLength="55.9" lengthAdjust="spacingAndGlyphs">31 Aug 12:00</text>
<rect x="1413" y="874" width="1" height="3" fill="#000"/>
<text x="1412.2" y="886.3" font-size="9.7" fill="#000" stroke="#000" text-anchor="start"  textLength="49.5" lengthAdjust="spacingAndGlyphs">1 Sep 20:00</text>
<rect x="1477" y="874" width="1" height="3" fill="#000"/>
<text x="1476.2" y="886.3" font-size="9.7" fill="#000" stroke="#000" text-anchor="start"  textLength="49.5" lengthAdjust="spacingAndGlyphs">3 Sep 04:00</text>
<rect x="1541" y="874" width="1" height="3" fill="#000"/>
<text x="1540.2" y="886.3" font-size="9.7" fill="#000" stroke="#000" text-anchor="start"  textLength="49.5" lengthAdjust="spacingAndGlyphs">4 Sep 12:00</text>
<rect x="1605" y="874" width="1" height="3" fill="#000"/>
<text x="1604.2" y="886.3" font-size="9.7" fill="#000" stroke="#000" text-anchor="start"  textLength="49.5" lengthAdjust="spacingAndGlyphs">7 Sep 16:00</text>
<rect x="1669" y="874" width="1" height="3" fill="#000"/>
<text x="1668.2" y="886.3" font-size="9.7" fill="#000" stroke="#000" text-anchor="start"  textLength="49.5" lengthAdjust="spacingAndGlyphs">9 Sep 00:00</text>
<path d="M8,38 L15,38 L11.5,42 Z" fill="#000"/>
<text x="19.6" y="43.3" font-size="9.7" fill="#000" stroke="#000" text-anchor="start"  textLength="171" lengthAdjust="spacingAndGlyphs">UKOil-,H4&#160;&#160;39.650 39.760 39.600 39.680</text>
<text x="8.8" y="562.5" font-size="9.7" fill="#000" stroke="#000" text-anchor="start"  textLength="134.3" lengthAdjust="spacingAndGlyphs">MACD(12,26,9) -1.2209 -1.0335</text>
<text x="8.8" y="731.5" font-size="9.7" fill="#000" stroke="#000" text-anchor="start"  textLength="68" lengthAdjust="spacingAndGlyphs">RSI(14) 20.9041</text>
</g>
</svg>
</body></html>
